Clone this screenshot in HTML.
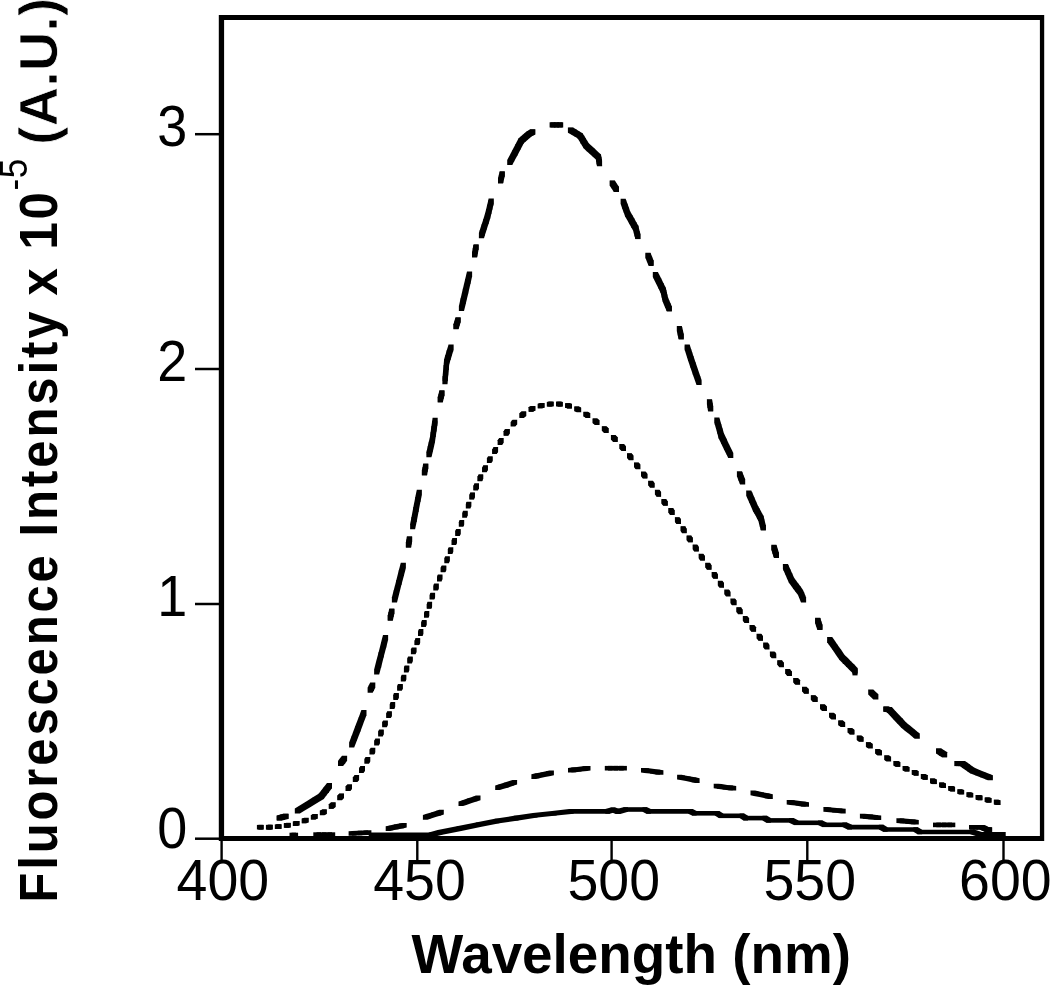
<!DOCTYPE html>
<html><head><meta charset="utf-8"><title>Fluorescence spectra</title>
<style>html,body{margin:0;padding:0;background:#fff;}body{width:1050px;height:985px;overflow:hidden;position:relative;font-family:"Liberation Sans",sans-serif;}</style>
</head><body>
<svg width="1050" height="985" viewBox="0 0 1050 985" style="position:absolute;left:0;top:0;will-change:transform">
<rect x="0" y="0" width="1050" height="985" fill="#fff"/>
<g fill="#000" stroke="none">
<polygon points="276.5,815.5 277.0,815.4 282.1,815.4 282.1,820.5 281.6,820.6 276.5,820.6"/><polygon points="277.0,815.4 280.1,814.6 285.1,814.6 285.1,819.7 282.1,820.5 277.0,820.5"/><polygon points="280.1,814.6 283.1,813.8 288.2,813.8 288.2,818.9 285.1,819.7 280.1,819.7"/><polygon points="283.1,813.8 283.6,813.7 288.7,813.7 288.7,818.8 288.2,818.9 283.1,818.9"/>
<polygon points="294.8,808.5 298.9,806.0 303.9,806.0 303.9,811.1 299.9,813.6 294.8,813.6"/><polygon points="298.9,806.0 305.4,801.9 310.6,801.9 310.6,807.0 303.9,811.1 298.9,811.1"/><polygon points="305.4,801.9 312.1,797.8 317.1,797.8 317.1,802.9 310.6,807.0 305.4,807.0"/><polygon points="312.1,797.8 318.6,793.8 323.8,793.8 323.8,798.9 317.1,802.9 312.1,802.9"/><polygon points="318.6,793.8 321.2,790.5 326.3,790.5 326.3,795.5 323.8,798.9 318.6,798.9"/><polygon points="321.2,790.5 323.8,787.1 328.9,787.1 328.9,792.2 326.3,795.5 321.2,795.5"/><polygon points="323.8,787.1 326.3,783.9 331.4,783.9 331.4,789.0 328.9,792.2 323.8,792.2"/><polygon points="326.3,783.9 326.9,783.1 332.0,783.1 332.0,788.2 331.4,789.0 326.3,789.0"/>
<polygon points="338.0,760.8 340.0,758.2 345.1,758.2 345.1,763.4 343.1,765.9 338.0,765.9"/><polygon points="340.0,758.2 342.0,755.7 347.1,755.7 347.1,760.8 345.1,763.4 340.0,763.4"/>
<polygon points="349.1,742.5 351.7,735.7 356.8,735.7 356.8,740.8 354.2,747.6 349.1,747.6"/><polygon points="351.7,735.7 355.2,726.3 360.4,726.3 360.4,731.4 356.8,740.8 351.7,740.8"/><polygon points="355.2,726.3 358.8,716.9 363.9,716.9 363.9,722.0 360.4,731.4 355.2,731.4"/><polygon points="358.8,716.9 361.4,710.1 366.5,710.1 366.5,715.2 363.9,722.0 358.8,722.0"/>
<polygon points="367.6,687.7 368.9,685.1 374.0,685.1 374.0,690.2 372.7,692.8 367.6,692.8"/><polygon points="368.9,685.1 370.2,682.6 375.3,682.6 375.3,687.7 374.0,690.2 368.9,690.2"/>
<polygon points="374.1,669.4 376.0,662.1 381.1,662.1 381.1,667.2 379.2,674.5 374.1,674.5"/><polygon points="376.0,662.1 378.6,652.2 383.6,652.2 383.6,657.3 381.1,667.2 376.0,667.2"/><polygon points="378.6,652.2 381.1,642.3 386.2,642.3 386.2,647.4 383.6,657.3 378.6,657.3"/><polygon points="381.1,642.3 383.0,635.0 388.1,635.0 388.1,640.1 386.2,647.4 381.1,647.4"/>
<polygon points="387.7,615.6 387.8,615.1 392.9,615.1 392.9,620.2 392.8,620.7 387.7,620.7"/><polygon points="387.8,615.1 388.5,612.0 393.6,612.0 393.6,617.1 392.9,620.2 387.8,620.2"/><polygon points="388.5,612.0 389.2,609.0 394.3,609.0 394.3,614.1 393.6,617.1 388.5,617.1"/><polygon points="389.2,609.0 389.3,608.5 394.4,608.5 394.4,613.6 394.3,614.1 389.2,614.1"/>
<polygon points="391.9,597.3 393.8,590.0 398.9,590.0 398.9,595.0 397.0,602.4 391.9,602.4"/><polygon points="393.8,590.0 396.4,580.0 401.4,580.0 401.4,585.1 398.9,595.0 393.8,595.0"/><polygon points="396.4,580.0 398.9,570.1 404.0,570.1 404.0,575.2 401.4,585.1 396.4,585.1"/><polygon points="398.9,570.1 400.8,562.8 405.9,562.8 405.9,567.9 404.0,575.2 398.9,575.2"/>
<polygon points="405.9,542.5 405.9,542.2 411.1,542.2 411.1,547.4 411.0,547.6 405.9,547.6"/><polygon points="405.9,542.2 406.4,539.5 411.6,539.5 411.6,544.5 411.1,547.4 405.9,547.4"/><polygon points="406.4,539.5 406.9,536.6 412.1,536.6 412.1,541.8 411.6,544.5 406.4,544.5"/><polygon points="406.9,536.6 407.0,536.4 412.1,536.4 412.1,541.5 412.1,541.8 406.9,541.8"/>
<polygon points="410.1,524.2 411.5,516.9 416.6,516.9 416.6,522.0 415.1,529.3 410.1,529.3"/><polygon points="411.5,516.9 413.4,506.9 418.5,506.9 418.5,512.0 416.6,522.0 411.5,522.0"/><polygon points="413.4,506.9 415.3,497.1 420.4,497.1 420.4,502.1 418.5,512.0 413.4,512.0"/><polygon points="415.3,497.1 416.8,489.7 421.9,489.7 421.9,494.8 420.4,502.1 415.3,502.1"/>
<polygon points="421.9,470.4 421.9,469.9 427.1,469.9 427.1,475.0 427.0,475.5 421.9,475.5"/><polygon points="421.9,469.9 422.6,466.9 427.6,466.9 427.6,472.0 427.1,475.0 421.9,475.0"/><polygon points="422.6,466.9 423.1,463.9 428.2,463.9 428.2,469.0 427.6,472.0 422.6,472.0"/><polygon points="423.1,463.9 423.2,463.4 428.3,463.4 428.3,468.5 428.2,469.0 423.1,469.0"/>
<polygon points="426.4,452.2 426.8,450.4 431.9,450.4 431.9,455.5 431.4,457.3 426.4,457.3"/><polygon points="426.8,450.4 427.8,446.1 432.9,446.1 432.9,451.2 431.9,455.5 426.8,455.5"/><polygon points="427.8,446.1 428.8,441.8 433.9,441.8 433.9,446.9 432.9,451.2 427.8,451.2"/><polygon points="428.8,441.8 429.9,437.4 434.9,437.4 434.9,442.6 433.9,446.9 428.8,446.9"/><polygon points="429.9,437.4 430.6,431.9 435.7,431.9 435.7,437.0 434.9,442.6 429.9,442.6"/><polygon points="430.6,431.9 431.4,426.3 436.5,426.3 436.5,431.4 435.7,437.0 430.6,437.0"/><polygon points="431.4,426.3 432.2,420.7 437.3,420.7 437.3,425.8 436.5,431.4 431.4,431.4"/><polygon points="432.2,420.7 432.6,417.7 437.7,417.7 437.7,422.8 437.3,425.8 432.2,425.8"/>
<polygon points="437.7,397.3 437.8,396.8 442.9,396.8 442.9,401.9 442.8,402.4 437.7,402.4"/><polygon points="437.8,396.8 438.6,393.8 443.6,393.8 443.6,398.9 442.9,401.9 437.8,401.9"/><polygon points="438.6,393.8 439.3,390.8 444.4,390.8 444.4,395.9 443.6,398.9 438.6,398.9"/><polygon points="439.3,390.8 439.4,390.3 444.5,390.3 444.5,395.4 444.4,395.9 439.3,395.9"/>
<polygon points="442.4,379.1 442.6,376.1 447.8,376.1 447.8,381.1 447.5,384.2 442.4,384.2"/><polygon points="442.6,376.1 443.1,370.4 448.2,370.4 448.2,375.6 447.8,381.1 442.6,381.1"/><polygon points="443.1,370.4 443.6,364.9 448.8,364.9 448.8,369.9 448.2,375.6 443.1,375.6"/><polygon points="443.6,364.9 444.1,359.2 449.2,359.2 449.2,364.4 448.8,369.9 443.6,369.9"/><polygon points="444.1,359.2 445.4,354.9 450.5,354.9 450.5,360.1 449.2,364.4 444.1,364.4"/><polygon points="445.4,354.9 446.7,350.6 451.8,350.6 451.8,355.8 450.5,360.1 445.4,360.1"/><polygon points="446.7,350.6 448.0,346.4 453.1,346.4 453.1,351.4 451.8,355.8 446.7,355.8"/><polygon points="448.0,346.4 448.5,344.6 453.6,344.6 453.6,349.7 453.1,351.4 448.0,351.4"/>
<polygon points="453.4,324.2 453.6,323.7 458.7,323.7 458.7,328.8 458.5,329.3 453.4,329.3"/><polygon points="453.6,323.7 454.5,320.7 459.6,320.7 459.6,325.8 458.7,328.8 453.6,328.8"/><polygon points="454.5,320.7 455.4,317.7 460.5,317.7 460.5,322.8 459.6,325.8 454.5,325.8"/><polygon points="455.4,317.7 455.6,317.2 460.7,317.2 460.7,322.3 460.5,322.8 455.4,322.8"/>
<polygon points="458.9,306.0 460.6,298.6 465.8,298.6 465.8,303.8 464.0,311.1 458.9,311.1"/><polygon points="460.6,298.6 462.9,288.8 468.1,288.8 468.1,293.9 465.8,303.8 460.6,303.8"/><polygon points="462.9,288.8 465.2,278.9 470.4,278.9 470.4,283.9 468.1,293.9 462.9,293.9"/><polygon points="465.2,278.9 467.0,271.5 472.1,271.5 472.1,276.6 470.4,283.9 465.2,283.9"/>
<polygon points="472.0,252.3 472.2,251.6 477.3,251.6 477.3,256.6 477.1,257.4 472.0,257.4"/><polygon points="472.2,251.6 472.8,248.2 477.9,248.2 477.9,253.3 477.3,256.6 472.2,256.6"/><polygon points="472.8,248.2 473.4,244.9 478.5,244.9 478.5,250.1 477.9,253.3 472.8,253.3"/><polygon points="473.4,244.9 473.6,244.2 478.7,244.2 478.7,249.3 478.5,250.1 473.4,250.1"/>
<polygon points="478.9,233.1 479.8,230.1 484.9,230.1 484.9,235.2 484.0,238.2 478.9,238.2"/><polygon points="479.8,230.1 481.6,224.5 486.7,224.5 486.7,229.6 484.9,235.2 479.8,235.2"/><polygon points="481.6,224.5 483.4,218.9 488.5,218.9 488.5,224.0 486.7,229.6 481.6,229.6"/><polygon points="483.4,218.9 485.1,213.3 490.2,213.3 490.2,218.4 488.5,224.0 483.4,224.0"/><polygon points="485.1,213.3 486.2,209.0 491.3,209.0 491.3,214.1 490.2,218.4 485.1,218.4"/><polygon points="486.2,209.0 487.2,204.7 492.3,204.7 492.3,209.8 491.3,214.1 486.2,214.1"/><polygon points="487.2,204.7 488.2,200.4 493.3,200.4 493.3,205.5 492.3,209.8 487.2,209.8"/><polygon points="488.2,200.4 488.6,198.6 493.8,198.6 493.8,203.7 493.3,205.5 488.2,205.5"/>
<polygon points="498.0,178.3 498.1,177.8 503.2,177.8 503.2,182.9 503.1,183.4 498.0,183.4"/><polygon points="498.1,177.8 498.9,174.8 503.9,174.8 503.9,179.8 503.2,182.9 498.1,182.9"/><polygon points="498.9,174.8 499.6,171.7 504.7,171.7 504.7,176.8 503.9,179.8 498.9,179.8"/><polygon points="499.6,171.7 499.7,171.2 504.8,171.2 504.8,176.3 504.7,176.8 499.6,176.8"/>
<polygon points="507.2,160.0 509.1,156.5 514.1,156.5 514.1,161.6 512.3,165.1 507.2,165.1"/><polygon points="509.1,156.5 512.2,150.4 517.4,150.4 517.4,155.5 514.1,161.6 509.1,161.6"/><polygon points="512.2,150.4 515.5,144.3 520.5,144.3 520.5,149.4 517.4,155.5 512.2,155.5"/><polygon points="515.5,144.3 518.6,138.2 523.8,138.2 523.8,143.3 520.5,149.4 515.5,149.4"/><polygon points="518.6,138.2 520.7,136.5 525.8,136.5 525.8,141.6 523.8,143.3 518.6,143.3"/><polygon points="520.7,136.5 522.7,134.7 527.8,134.7 527.8,139.8 525.8,141.6 520.7,141.6"/><polygon points="522.7,134.7 524.7,132.9 529.8,132.9 529.8,138.0 527.8,139.8 522.7,139.8"/><polygon points="524.7,132.9 526.8,131.2 531.9,131.2 531.9,136.2 529.8,138.0 524.7,138.0"/><polygon points="526.8,131.2 528.3,130.4 533.4,130.4 533.4,135.5 531.9,136.2 526.8,136.2"/><polygon points="528.3,130.4 529.8,129.6 534.9,129.6 534.9,134.7 533.4,135.5 528.3,135.5"/><polygon points="529.8,129.6 530.3,129.3 535.4,129.3 535.4,134.4 534.9,134.7 529.8,134.7"/>
<polygon points="549.6,122.3 555.5,122.3 555.5,127.5 549.6,127.5"/><polygon points="550.5,122.3 559.0,122.3 559.0,127.5 550.5,127.5"/><polygon points="553.9,122.3 562.4,122.3 562.4,127.5 553.9,127.5"/><polygon points="557.2,122.3 563.2,122.3 563.2,127.5 557.2,127.5"/>
<polygon points="567.9,127.5 573.0,127.5 573.5,127.8 573.5,132.9 568.4,132.9 567.9,132.6"/><polygon points="568.4,127.8 573.5,127.8 576.5,129.6 576.5,134.7 571.5,134.7 568.4,132.9"/><polygon points="571.5,129.6 576.5,129.6 579.6,131.4 579.6,136.5 574.5,136.5 571.5,134.7"/><polygon points="574.5,131.4 579.6,131.4 582.6,133.2 582.6,138.2 577.5,138.2 574.5,136.5"/><polygon points="577.5,133.2 582.6,133.2 584.2,135.7 584.2,140.8 579.1,140.8 577.5,138.2"/><polygon points="579.1,135.7 584.2,135.7 585.7,138.2 585.7,143.3 580.6,143.3 579.1,140.8"/><polygon points="580.6,138.2 585.7,138.2 587.2,140.7 587.2,145.8 582.1,145.8 580.6,143.3"/><polygon points="582.1,140.7 587.2,140.7 588.8,143.2 588.8,148.3 583.6,148.3 582.1,145.8"/><polygon points="583.6,143.2 588.8,143.2 591.8,146.1 591.8,151.2 586.7,151.2 583.6,148.3"/><polygon points="586.7,146.1 591.8,146.1 594.9,148.8 594.9,153.9 589.8,153.9 586.7,151.2"/><polygon points="589.8,148.8 594.9,148.8 597.9,151.7 597.9,156.8 592.8,156.8 589.8,153.9"/><polygon points="592.8,151.7 597.9,151.7 601.0,154.4 601.0,159.6 595.9,159.6 592.8,156.8"/><polygon points="595.9,154.4 601.0,154.4 601.4,156.8 601.4,161.8 596.2,161.8 595.9,159.6"/><polygon points="596.2,156.8 601.4,156.8 601.8,159.1 601.8,164.2 596.6,164.2 596.2,161.8"/><polygon points="596.6,159.1 601.8,159.1 602.1,161.1 602.1,166.2 597.0,166.2 596.6,164.2"/>
<polygon points="609.7,180.5 614.8,180.5 615.0,180.8 615.0,185.9 609.9,185.9 609.7,185.6"/><polygon points="609.9,180.8 615.0,180.8 616.9,183.7 616.9,188.8 611.8,188.8 609.9,185.9"/><polygon points="611.8,183.7 616.9,183.7 618.8,186.6 618.8,191.7 613.7,191.7 611.8,188.8"/><polygon points="613.7,186.6 618.8,186.6 619.0,186.9 619.0,192.0 613.9,192.0 613.7,191.7"/>
<polygon points="620.6,198.7 625.7,198.7 626.1,200.0 626.1,205.1 621.0,205.1 620.6,203.8"/><polygon points="621.0,200.0 626.1,200.0 627.5,203.8 627.5,208.9 622.4,208.9 621.0,205.1"/><polygon points="622.4,203.8 627.5,203.8 628.9,207.6 628.9,212.7 623.8,212.7 622.4,208.9"/><polygon points="623.8,207.6 628.9,207.6 630.2,211.4 630.2,216.6 625.1,216.6 623.8,212.7"/><polygon points="625.1,211.4 630.2,211.4 632.3,215.0 632.3,220.1 627.2,220.1 625.1,216.6"/><polygon points="627.2,215.0 632.3,215.0 634.3,218.6 634.3,223.7 629.2,223.7 627.2,220.1"/><polygon points="629.2,218.6 634.3,218.6 636.3,222.2 636.3,227.3 631.2,227.3 629.2,223.7"/><polygon points="631.2,222.2 636.3,222.2 638.4,225.8 638.4,230.8 633.2,230.8 631.2,227.3"/><polygon points="633.2,225.8 638.4,225.8 639.0,228.4 639.0,233.6 633.9,233.6 633.2,230.8"/><polygon points="633.9,228.4 639.0,228.4 639.7,231.2 639.7,236.2 634.6,236.2 633.9,233.6"/><polygon points="634.6,231.2 639.7,231.2 640.4,233.8 640.4,238.9 635.3,238.9 634.6,236.2"/><polygon points="635.3,233.8 640.4,233.8 640.4,234.0 640.4,239.1 635.3,239.1 635.3,238.9"/>
<polygon points="645.4,252.7 650.5,252.7 650.8,253.4 650.8,258.6 645.7,258.6 645.4,257.8"/><polygon points="645.7,253.4 650.8,253.4 652.1,256.8 652.1,261.9 647.0,261.9 645.7,258.6"/><polygon points="647.0,256.8 652.1,256.8 653.4,260.1 653.4,265.1 648.3,265.1 647.0,261.9"/><polygon points="648.3,260.1 653.4,260.1 653.7,260.8 653.7,265.9 648.6,265.9 648.3,265.1"/>
<polygon points="652.8,272.0 657.9,272.0 658.9,274.0 658.9,279.1 653.8,279.1 652.8,277.1"/><polygon points="653.8,274.0 658.9,274.0 661.2,278.6 661.2,283.7 656.1,283.7 653.8,279.1"/><polygon points="656.1,278.6 661.2,278.6 663.5,283.2 663.5,288.3 658.4,288.3 656.1,283.7"/><polygon points="658.4,283.2 663.5,283.2 665.8,287.8 665.8,292.9 660.6,292.9 658.4,288.3"/><polygon points="660.6,287.8 665.8,287.8 666.3,290.0 666.3,295.1 661.2,295.1 660.6,292.9"/><polygon points="661.2,290.0 666.3,290.0 666.8,292.3 666.8,297.4 661.7,297.4 661.2,295.1"/><polygon points="661.7,292.3 666.8,292.3 667.3,294.6 667.3,299.7 662.2,299.7 661.7,297.4"/><polygon points="662.2,294.6 667.3,294.6 667.9,296.9 667.9,301.9 662.8,301.9 662.2,299.7"/><polygon points="662.8,296.9 667.9,296.9 669.1,299.9 669.1,305.0 664.0,305.0 662.8,301.9"/><polygon points="664.0,299.9 669.1,299.9 670.4,302.9 670.4,308.1 665.3,308.1 664.0,305.0"/><polygon points="665.3,302.9 670.4,302.9 671.7,306.0 671.7,311.1 666.6,311.1 665.3,308.1"/><polygon points="666.6,306.0 671.7,306.0 671.9,306.5 671.9,311.6 666.8,311.6 666.6,311.1"/>
<polygon points="676.8,326.0 681.9,326.0 682.1,326.9 682.1,331.9 677.0,331.9 676.8,331.1"/><polygon points="677.0,326.9 682.1,326.9 682.9,330.2 682.9,335.4 677.8,335.4 677.0,331.9"/><polygon points="677.8,330.2 682.9,330.2 683.6,333.6 683.6,338.8 678.5,338.8 677.8,335.4"/><polygon points="678.5,333.6 683.6,333.6 683.8,334.5 683.8,339.6 678.7,339.6 678.5,338.8"/>
<polygon points="684.6,344.4 689.7,344.4 690.0,345.4 690.0,350.5 684.9,350.5 684.6,349.5"/><polygon points="684.9,345.4 690.0,345.4 691.1,348.9 691.1,354.1 686.0,354.1 684.9,350.5"/><polygon points="686.0,348.9 691.1,348.9 692.2,352.5 692.2,357.6 687.1,357.6 686.0,354.1"/><polygon points="687.1,352.5 692.2,352.5 693.4,356.1 693.4,361.1 688.2,361.1 687.1,357.6"/><polygon points="688.2,356.1 693.4,356.1 695.6,362.6 695.6,367.8 690.5,367.8 688.2,361.1"/><polygon points="690.5,362.6 695.6,362.6 697.9,369.2 697.9,374.4 692.8,374.4 690.5,367.8"/><polygon points="692.8,369.2 697.9,369.2 700.2,375.9 700.2,380.9 695.1,380.9 692.8,374.4"/><polygon points="695.1,375.9 700.2,375.9 701.6,379.9 701.6,385.0 696.5,385.0 695.1,380.9"/>
<polygon points="706.9,399.2 712.0,399.2 712.1,399.7 712.1,404.8 707.0,404.8 706.9,404.3"/><polygon points="707.0,399.7 712.1,399.7 712.6,402.8 712.6,407.9 707.5,407.9 707.0,404.8"/><polygon points="707.5,402.8 712.6,402.8 713.1,405.8 713.1,410.9 708.0,410.9 707.5,407.9"/><polygon points="708.0,405.8 713.1,405.8 713.2,406.3 713.2,411.4 708.1,411.4 708.0,410.9"/>
<polygon points="714.3,417.5 719.4,417.5 719.9,419.5 719.9,424.6 714.8,424.6 714.3,422.6"/><polygon points="714.8,419.5 719.9,419.5 721.2,424.1 721.2,429.1 716.1,429.1 714.8,424.6"/><polygon points="716.1,424.1 721.2,424.1 722.5,428.6 722.5,433.7 717.4,433.7 716.1,429.1"/><polygon points="717.4,428.6 722.5,428.6 723.8,433.1 723.8,438.2 718.6,438.2 717.4,433.7"/><polygon points="718.6,433.1 723.8,433.1 726.5,438.8 726.5,443.9 721.4,443.9 718.6,438.2"/><polygon points="721.4,438.8 726.5,438.8 729.1,444.4 729.1,449.4 724.0,449.4 721.4,443.9"/><polygon points="724.0,444.4 729.1,444.4 731.9,449.9 731.9,455.1 726.8,455.1 724.0,449.4"/><polygon points="726.8,449.9 731.9,449.9 733.3,453.0 733.3,458.1 728.2,458.1 726.8,455.1"/>
<polygon points="736.9,471.3 742.0,471.3 742.3,472.1 742.3,477.1 737.2,477.1 736.9,476.4"/><polygon points="737.2,472.1 742.3,472.1 743.6,475.4 743.6,480.4 738.5,480.4 737.2,477.1"/><polygon points="738.5,475.4 743.6,475.4 744.9,478.6 744.9,483.8 739.8,483.8 738.5,480.4"/><polygon points="739.8,478.6 744.9,478.6 745.2,479.4 745.2,484.5 740.1,484.5 739.8,483.8"/>
<polygon points="746.2,490.6 751.3,490.6 752.2,492.6 752.2,497.7 747.1,497.7 746.2,495.7"/><polygon points="747.1,492.6 752.2,492.6 754.2,497.1 754.2,502.2 749.1,502.2 747.1,497.7"/><polygon points="749.1,497.1 754.2,497.1 756.2,501.7 756.2,506.8 751.1,506.8 749.1,502.2"/><polygon points="751.1,501.7 756.2,501.7 758.2,506.2 758.2,511.4 753.1,511.4 751.1,506.8"/><polygon points="753.1,506.2 758.2,506.2 759.5,508.6 759.5,513.7 754.5,513.7 753.1,511.4"/><polygon points="754.5,508.6 759.5,508.6 760.9,511.0 760.9,516.1 755.8,516.1 754.5,513.7"/><polygon points="755.8,511.0 760.9,511.0 762.1,513.4 762.1,518.5 757.0,518.5 755.8,516.1"/><polygon points="757.0,513.4 762.1,513.4 763.5,515.8 763.5,520.9 758.4,520.9 757.0,518.5"/><polygon points="758.4,515.8 763.5,515.8 764.2,518.8 764.2,523.9 759.1,523.9 758.4,520.9"/><polygon points="759.1,518.8 764.2,518.8 765.0,521.9 765.0,527.0 759.9,527.0 759.1,523.9"/><polygon points="759.9,521.9 765.0,521.9 765.8,524.9 765.8,530.0 760.7,530.0 759.9,527.0"/><polygon points="760.7,524.9 765.8,524.9 765.9,525.4 765.9,530.5 760.8,530.5 760.7,530.0"/>
<polygon points="771.3,544.7 776.4,544.7 776.7,545.5 776.7,550.5 771.6,550.5 771.3,549.8"/><polygon points="771.6,545.5 776.7,545.5 777.7,548.8 777.7,553.9 772.6,553.9 771.6,550.5"/><polygon points="772.6,548.8 777.7,548.8 778.7,552.0 778.7,557.1 773.6,557.1 772.6,553.9"/><polygon points="773.6,552.0 778.7,552.0 779.0,552.8 779.0,557.9 773.9,557.9 773.6,557.1"/>
<polygon points="782.9,564.0 788.0,564.0 788.6,565.5 788.6,570.6 783.5,570.6 782.9,569.1"/><polygon points="783.5,565.5 788.6,565.5 790.4,569.5 790.4,574.6 785.3,574.6 783.5,570.6"/><polygon points="785.3,569.5 790.4,569.5 792.2,573.6 792.2,578.7 787.1,578.7 785.3,574.6"/><polygon points="787.1,573.6 792.2,573.6 794.0,577.6 794.0,582.8 788.9,582.8 787.1,578.7"/><polygon points="788.9,577.6 794.0,577.6 796.2,580.7 796.2,585.8 791.1,585.8 788.9,582.8"/><polygon points="791.1,580.7 796.2,580.7 798.5,583.8 798.5,588.9 793.4,588.9 791.1,585.8"/><polygon points="793.4,583.8 798.5,583.8 800.8,586.8 800.8,591.9 795.7,591.9 793.4,588.9"/><polygon points="795.7,586.8 800.8,586.8 803.0,589.9 803.0,595.0 798.0,595.0 795.7,591.9"/><polygon points="798.0,589.9 803.0,589.9 804.1,592.4 804.1,597.5 799.0,597.5 798.0,595.0"/><polygon points="799.0,592.4 804.1,592.4 805.1,594.9 805.1,600.0 800.0,600.0 799.0,597.5"/><polygon points="800.0,594.9 805.1,594.9 806.1,597.4 806.1,602.5 801.0,602.5 800.0,600.0"/>
<polygon points="815.1,617.8 820.2,617.8 820.4,618.3 820.4,623.4 815.2,623.4 815.1,622.9"/><polygon points="815.2,618.3 820.4,618.3 821.4,621.4 821.4,626.5 816.2,626.5 815.2,623.4"/><polygon points="816.2,621.4 821.4,621.4 822.4,624.4 822.4,629.5 817.2,629.5 816.2,626.5"/><polygon points="817.2,624.4 822.4,624.4 822.5,624.9 822.5,630.0 817.4,630.0 817.2,629.5"/>
<polygon points="827.1,637.1 832.2,637.1 834.0,639.6 834.0,644.7 828.9,644.7 827.1,642.2"/><polygon points="828.9,639.6 834.0,639.6 837.5,644.7 837.5,649.8 832.5,649.8 828.9,644.7"/><polygon points="832.5,644.7 837.5,644.7 841.1,649.8 841.1,654.9 836.0,654.9 832.5,649.8"/><polygon points="836.0,649.8 841.1,649.8 844.6,654.9 844.6,660.0 839.5,660.0 836.0,654.9"/><polygon points="839.5,654.9 844.6,654.9 847.9,658.1 847.9,663.2 842.8,663.2 839.5,660.0"/><polygon points="842.8,658.1 847.9,658.1 851.1,661.4 851.1,666.5 846.0,666.5 842.8,663.2"/><polygon points="846.0,661.4 851.1,661.4 854.3,664.6 854.3,669.7 849.2,669.7 846.0,666.5"/><polygon points="849.2,664.6 854.3,664.6 857.5,667.9 857.5,673.0 852.5,673.0 849.2,669.7"/><polygon points="852.5,667.9 857.5,667.9 857.5,674.2 852.5,674.2"/><polygon points="852.5,669.1 857.5,669.1 857.5,675.4 852.5,675.4"/>
<polygon points="868.2,689.5 873.3,689.5 875.9,691.9 875.9,697.0 870.8,697.0 868.2,694.6"/><polygon points="870.8,691.9 875.9,691.9 878.4,694.3 878.4,699.4 873.3,699.4 870.8,697.0"/>
<polygon points="883.2,706.6 888.3,706.6 888.8,706.6 888.8,711.8 883.7,711.8 883.2,711.7"/><polygon points="883.7,706.6 888.8,706.6 890.3,706.9 890.3,712.0 885.2,712.0 883.7,711.8"/><polygon points="885.2,706.9 890.3,706.9 891.9,707.1 891.9,712.2 886.8,712.2 885.2,712.0"/><polygon points="886.8,707.1 891.9,707.1 895.4,711.0 895.4,716.1 890.3,716.1 886.8,712.2"/><polygon points="890.3,711.0 895.4,711.0 899.0,714.8 899.0,719.9 893.9,719.9 890.3,716.1"/><polygon points="893.9,714.8 899.0,714.8 902.6,718.6 902.6,723.7 897.5,723.7 893.9,719.9"/><polygon points="897.5,718.6 902.6,718.6 906.1,722.5 906.1,727.5 901.0,727.5 897.5,723.7"/><polygon points="901.0,722.5 906.1,722.5 910.2,725.8 910.2,730.9 905.1,730.9 901.0,727.5"/><polygon points="905.1,725.8 910.2,725.8 914.2,729.0 914.2,734.1 909.1,734.1 905.1,730.9"/><polygon points="909.1,729.0 914.2,729.0 918.3,732.4 918.3,737.5 913.2,737.5 909.1,734.1"/><polygon points="913.2,732.4 918.3,732.4 919.8,733.6 919.8,738.7 914.7,738.7 913.2,737.5"/>
<polygon points="936.0,748.4 941.1,748.4 941.4,748.5 941.4,753.6 936.2,753.6 936.0,753.5"/><polygon points="936.2,748.5 941.4,748.5 944.1,750.3 944.1,755.4 939.0,755.4 936.2,753.6"/><polygon points="939.0,750.3 944.1,750.3 947.0,752.1 947.0,757.2 941.9,757.2 939.0,755.4"/><polygon points="941.9,752.1 947.0,752.1 947.2,752.2 947.2,757.3 942.1,757.3 941.9,757.2"/>
<polygon points="954.3,761.0 960.9,761.0 960.9,766.1 954.3,766.1"/><polygon points="955.8,761.0 962.9,761.0 962.9,766.1 955.8,766.1"/><polygon points="957.8,761.0 965.0,761.0 965.0,766.1 957.8,766.1"/><polygon points="959.9,761.0 965.0,761.0 967.5,762.8 967.5,767.9 962.4,767.9 959.9,766.1"/><polygon points="962.4,762.8 967.5,762.8 970.0,764.6 970.0,769.7 965.0,769.7 962.4,767.9"/><polygon points="965.0,764.6 970.0,764.6 972.6,766.4 972.6,771.5 967.5,771.5 965.0,769.7"/><polygon points="967.5,766.4 972.6,766.4 975.1,768.1 975.1,773.2 970.0,773.2 967.5,771.5"/><polygon points="970.0,768.1 975.1,768.1 980.2,770.2 980.2,775.3 975.1,775.3 970.0,773.2"/><polygon points="975.1,770.2 980.2,770.2 985.3,772.2 985.3,777.3 980.2,777.3 975.1,775.3"/><polygon points="980.2,772.2 985.3,772.2 990.4,774.2 990.4,779.3 985.3,779.3 980.2,777.3"/><polygon points="985.3,774.2 990.4,774.2 992.9,775.2 992.9,780.3 987.8,780.3 985.3,779.3"/>
<polygon points="289.5,832.7 296.1,832.7 296.1,837.3 289.5,837.3"/><polygon points="291.5,832.7 298.1,832.7 298.1,837.3 291.5,837.3"/>
<polygon points="313.3,832.3 321.1,832.3 321.1,836.9 313.3,836.9"/><polygon points="316.5,832.3 326.6,832.3 326.6,836.9 316.5,836.9"/><polygon points="321.9,832.3 332.0,832.3 332.0,836.9 321.9,836.9"/><polygon points="327.4,832.3 335.2,832.3 335.2,836.9 327.4,836.9"/>
<polygon points="348.6,831.2 352.0,831.0 356.6,831.0 356.6,835.6 353.2,835.8 348.6,835.8"/><polygon points="352.0,831.0 357.7,830.7 362.3,830.7 362.3,835.3 356.6,835.6 352.0,835.6"/><polygon points="357.7,830.7 363.4,830.4 368.0,830.4 368.0,835.0 362.3,835.3 357.7,835.3"/><polygon points="363.4,830.4 366.8,830.2 371.4,830.2 371.4,834.8 368.0,835.0 363.4,835.0"/>
<polygon points="385.7,826.3 388.6,825.7 393.2,825.7 393.2,830.3 390.3,830.9 385.7,830.9"/><polygon points="388.6,825.7 393.9,824.6 398.5,824.6 398.5,829.2 393.2,830.3 388.6,830.3"/><polygon points="393.9,824.6 399.1,823.6 403.8,823.6 403.8,828.2 398.5,829.2 393.9,829.2"/><polygon points="399.1,823.6 402.1,823.0 406.7,823.0 406.7,827.6 403.8,828.2 399.1,828.2"/>
<polygon points="422.9,815.1 425.8,814.1 430.4,814.1 430.4,818.7 427.5,819.7 422.9,819.7"/><polygon points="425.8,814.1 431.1,812.5 435.6,812.5 435.6,817.0 430.4,818.7 425.8,818.7"/><polygon points="431.1,812.5 436.3,810.8 440.9,810.8 440.9,815.4 435.6,817.0 431.1,817.0"/><polygon points="436.3,810.8 439.2,809.8 443.8,809.8 443.8,814.4 440.9,815.4 436.3,815.4"/>
<polygon points="458.5,801.5 461.7,800.4 466.3,800.4 466.3,805.0 463.1,806.1 458.5,806.1"/><polygon points="461.7,800.4 467.2,798.5 471.8,798.5 471.8,803.1 466.3,805.0 461.7,805.0"/><polygon points="467.2,798.5 472.7,796.7 477.3,796.7 477.3,801.3 471.8,803.1 467.2,803.1"/><polygon points="472.7,796.7 475.9,795.6 480.5,795.6 480.5,800.2 477.3,801.3 472.7,801.3"/>
<polygon points="495.2,785.5 498.4,784.5 503.0,784.5 503.0,789.1 499.8,790.1 495.2,790.1"/><polygon points="498.4,784.5 503.9,782.8 508.4,782.8 508.4,787.4 503.0,789.1 498.4,789.1"/><polygon points="503.9,782.8 509.3,781.0 513.9,781.0 513.9,785.6 508.4,787.4 503.9,787.4"/><polygon points="509.3,781.0 512.5,780.0 517.1,780.0 517.1,784.5 513.9,785.6 509.3,785.6"/>
<polygon points="531.4,774.3 534.7,773.6 539.3,773.6 539.3,778.2 536.0,778.9 531.4,778.9"/><polygon points="534.7,773.6 540.4,772.5 545.0,772.5 545.0,777.0 539.3,778.2 534.7,778.2"/><polygon points="540.4,772.5 546.0,771.3 550.6,771.3 550.6,775.9 545.0,777.0 540.4,777.0"/><polygon points="546.0,771.3 549.3,770.6 553.9,770.6 553.9,775.2 550.6,775.9 546.0,775.9"/>
<polygon points="568.0,767.9 571.3,767.6 575.9,767.6 575.9,772.2 572.6,772.5 568.0,772.5"/><polygon points="571.3,767.6 577.0,767.0 581.5,767.0 581.5,771.5 575.9,772.2 571.3,772.2"/><polygon points="577.0,767.0 582.6,766.3 587.2,766.3 587.2,770.9 581.5,771.5 577.0,771.5"/><polygon points="582.6,766.3 585.9,766.0 590.5,766.0 590.5,770.6 587.2,770.9 582.6,770.9"/>
<polygon points="604.8,765.9 612.6,765.9 612.6,770.5 604.8,770.5"/><polygon points="608.0,765.9 618.1,765.9 618.1,770.5 608.0,770.5"/><polygon points="613.5,765.9 623.7,765.9 623.7,770.5 613.5,770.5"/><polygon points="619.1,765.9 626.9,765.9 626.9,770.5 619.1,770.5"/>
<polygon points="641.0,767.9 645.6,767.9 648.9,768.3 648.9,772.9 644.3,772.9 641.0,772.5"/><polygon points="644.3,768.3 648.9,768.3 654.5,769.0 654.5,773.6 649.9,773.6 644.3,772.9"/><polygon points="649.9,769.0 654.5,769.0 660.1,769.8 660.1,774.4 655.5,774.4 649.9,773.6"/><polygon points="655.5,769.8 660.1,769.8 663.4,770.2 663.4,774.8 658.8,774.8 655.5,774.4"/>
<polygon points="677.1,774.8 681.7,774.8 685.0,775.4 685.0,780.0 680.4,780.0 677.1,779.4"/><polygon points="680.4,775.4 685.0,775.4 690.6,776.5 690.6,781.1 686.0,781.1 680.4,780.0"/><polygon points="686.0,776.5 690.6,776.5 696.3,777.6 696.3,782.2 691.7,782.2 686.0,781.1"/><polygon points="691.7,777.6 696.3,777.6 699.6,778.2 699.6,782.9 695.0,782.9 691.7,782.2"/>
<polygon points="713.7,783.7 718.3,783.7 721.6,784.1 721.6,788.7 717.0,788.7 713.7,788.3"/><polygon points="717.0,784.1 721.6,784.1 727.2,784.9 727.2,789.5 722.6,789.5 717.0,788.7"/><polygon points="722.6,784.9 727.2,784.9 732.9,785.6 732.9,790.2 728.3,790.2 722.6,789.5"/><polygon points="728.3,785.6 732.9,785.6 736.2,786.0 736.2,790.6 731.6,790.6 728.3,790.2"/>
<polygon points="750.5,790.6 755.1,790.6 758.4,791.3 758.4,795.9 753.8,795.9 750.5,795.2"/><polygon points="753.8,791.3 758.4,791.3 764.0,792.5 764.0,797.0 759.4,797.0 753.8,795.9"/><polygon points="759.4,792.5 764.0,792.5 769.5,793.6 769.5,798.2 764.9,798.2 759.4,797.0"/><polygon points="764.9,793.6 769.5,793.6 772.8,794.3 772.8,798.9 768.2,798.9 764.9,798.2"/>
<polygon points="786.7,799.9 791.3,799.9 794.6,800.3 794.6,804.9 790.0,804.9 786.7,804.5"/><polygon points="790.0,800.3 794.6,800.3 800.1,801.0 800.1,805.6 795.5,805.6 790.0,804.9"/><polygon points="795.5,801.0 800.1,801.0 805.7,801.8 805.7,806.4 801.1,806.4 795.5,805.6"/><polygon points="801.1,801.8 805.7,801.8 809.0,802.2 809.0,806.8 804.4,806.8 801.1,806.4"/>
<polygon points="823.4,807.1 828.0,807.1 831.3,807.4 831.3,812.0 826.7,812.0 823.4,811.7"/><polygon points="826.7,807.4 831.3,807.4 836.9,808.0 836.9,812.5 832.2,812.5 826.7,812.0"/><polygon points="832.2,808.0 836.9,808.0 842.4,808.5 842.4,813.1 837.8,813.1 832.2,812.5"/><polygon points="837.8,808.5 842.4,808.5 845.7,808.8 845.7,813.4 841.1,813.4 837.8,813.1"/>
<polygon points="859.9,813.8 864.5,813.8 867.5,814.1 867.5,818.7 862.9,818.7 859.9,818.4"/><polygon points="862.9,814.1 867.5,814.1 872.9,814.6 872.9,819.2 868.2,819.2 862.9,818.7"/><polygon points="868.2,814.6 872.9,814.6 878.2,815.2 878.2,819.8 873.6,819.8 868.2,819.2"/><polygon points="873.6,815.2 878.2,815.2 881.2,815.5 881.2,820.1 876.6,820.1 873.6,819.8"/>
<polygon points="896.4,818.3 901.0,818.3 904.3,818.6 904.3,823.2 899.7,823.2 896.4,822.9"/><polygon points="899.7,818.6 904.3,818.6 909.9,819.1 909.9,823.7 905.3,823.7 899.7,823.2"/><polygon points="905.3,819.1 909.9,819.1 915.5,819.6 915.5,824.2 910.9,824.2 905.3,823.7"/><polygon points="910.9,819.6 915.5,819.6 918.8,819.9 918.8,824.5 914.2,824.5 910.9,824.2"/>
<polygon points="933.0,822.6 940.9,822.6 940.9,827.2 933.0,827.2"/><polygon points="936.3,822.6 946.5,822.6 946.5,827.2 936.3,827.2"/><polygon points="941.9,822.6 952.0,822.6 952.0,827.2 941.9,827.2"/><polygon points="947.4,822.6 955.3,822.6 955.3,827.2 947.4,827.2"/>
<polygon points="969.0,825.0 974.5,825.0 974.5,829.6 969.0,829.6"/><polygon points="970.0,825.0 977.8,825.0 977.8,829.6 970.0,829.6"/><polygon points="973.2,825.0 981.0,825.0 981.0,829.6 973.2,829.6"/><polygon points="976.5,825.0 984.3,825.0 984.3,829.6 976.5,829.6"/><polygon points="979.7,825.0 984.3,825.0 985.5,825.6 985.5,830.2 981.0,830.2 979.7,829.6"/><polygon points="981.0,825.6 985.5,825.6 986.8,826.1 986.8,830.8 982.2,830.8 981.0,830.2"/><polygon points="982.2,826.1 986.8,826.1 988.0,826.7 988.0,831.3 983.5,831.3 982.2,830.8"/><polygon points="983.5,826.7 988.0,826.7 989.3,827.3 989.3,831.9 984.7,831.9 983.5,831.3"/><polygon points="984.7,827.3 990.6,827.3 990.6,831.9 984.7,831.9"/><polygon points="986.0,827.3 991.9,827.3 991.9,831.9 986.0,831.9"/><polygon points="987.3,827.3 992.2,827.3 992.2,831.9 987.3,831.9"/>
<polygon points="368.7,832.5 433.3,832.5 433.3,837.1 368.7,837.1"/><polygon points="428.7,832.5 437.7,830.1 442.3,830.1 442.3,834.7 433.3,837.1 428.7,837.1"/><polygon points="437.7,830.1 456.7,826.3 461.3,826.3 461.3,830.9 442.3,834.7 437.7,834.7"/><polygon points="456.7,826.3 475.8,822.5 480.4,822.5 480.4,827.1 461.3,830.9 456.7,830.9"/><polygon points="475.8,822.5 494.8,818.7 499.4,818.7 499.4,823.3 480.4,827.1 475.8,827.1"/><polygon points="494.8,818.7 513.9,815.8 518.5,815.8 518.5,820.4 499.4,823.3 494.8,823.3"/><polygon points="513.9,815.8 532.9,812.9 537.5,812.9 537.5,817.5 518.5,820.4 513.9,820.4"/><polygon points="532.9,812.9 552.0,811.0 556.6,811.0 556.6,815.6 537.5,817.5 532.9,817.5"/><polygon points="552.0,811.0 569.1,809.1 573.7,809.1 573.7,813.7 556.6,815.6 552.0,815.6"/><polygon points="569.1,809.1 609.9,809.1 609.9,813.7 569.1,813.7"/><polygon points="605.3,809.1 610.7,807.5 615.3,807.5 615.3,812.1 609.9,813.7 605.3,813.7"/><polygon points="610.7,807.5 615.3,807.5 620.3,809.3 620.3,813.9 615.7,813.9 610.7,812.1"/><polygon points="615.7,809.3 623.4,807.2 628.0,807.2 628.0,811.8 620.3,813.9 615.7,813.9"/><polygon points="623.4,807.2 647.1,807.2 647.1,811.8 623.4,811.8"/><polygon points="642.5,807.2 647.1,807.2 650.9,809.1 650.9,813.7 646.3,813.7 642.5,811.8"/><polygon points="646.3,809.1 692.8,809.1 692.8,813.7 646.3,813.7"/><polygon points="688.2,809.1 692.8,809.1 696.6,811.0 696.6,815.6 692.0,815.6 688.2,813.7"/><polygon points="692.0,811.0 719.4,811.0 719.4,815.6 692.0,815.6"/><polygon points="714.8,811.0 719.4,811.0 723.3,813.5 723.3,818.1 718.7,818.1 714.8,815.6"/><polygon points="718.7,813.5 744.2,813.5 744.2,818.1 718.7,818.1"/><polygon points="739.6,813.5 744.2,813.5 748.0,815.8 748.0,820.4 743.4,820.4 739.6,818.1"/><polygon points="743.4,815.8 767.1,815.8 767.1,820.4 743.4,820.4"/><polygon points="762.5,815.8 767.1,815.8 770.9,818.1 770.9,822.7 766.3,822.7 762.5,820.4"/><polygon points="766.3,818.1 793.7,818.1 793.7,822.7 766.3,822.7"/><polygon points="789.1,818.1 793.7,818.1 798.5,820.5 798.5,825.1 793.9,825.1 789.1,822.7"/><polygon points="793.9,820.5 822.6,820.5 822.6,825.1 793.9,825.1"/><polygon points="818.0,820.5 822.6,820.5 826.7,822.5 826.7,827.1 822.1,827.1 818.0,825.1"/><polygon points="822.1,822.5 847.0,822.5 847.0,827.1 822.1,827.1"/><polygon points="842.4,822.5 847.0,822.5 852.0,824.8 852.0,829.4 847.4,829.4 842.4,827.1"/><polygon points="847.4,824.8 883.5,824.8 883.5,829.4 847.4,829.4"/><polygon points="878.9,824.8 883.5,824.8 887.6,827.2 887.6,831.8 883.0,831.8 878.9,829.4"/><polygon points="883.0,827.2 918.0,827.2 918.0,831.8 883.0,831.8"/><polygon points="913.4,827.2 918.0,827.2 922.1,829.7 922.1,834.3 917.5,834.3 913.4,831.8"/><polygon points="917.5,829.7 974.9,829.7 974.9,834.3 917.5,834.3"/><polygon points="970.3,829.7 974.9,829.7 987.3,833.7 987.3,838.3 982.7,838.3 970.3,834.3"/><polygon points="982.7,833.7 987.3,833.7 1005.3,835.7 1005.3,840.3 1000.7,840.3 982.7,838.3"/>
<polygon points="256.9,824.9 262.6,824.9 262.6,829.5 256.9,829.5"/><polygon points="258.0,824.9 263.5,824.9 263.5,829.5 258.0,829.5"/><polygon points="258.9,824.9 263.7,824.9 263.7,829.5 258.9,829.5"/>
<polygon points="265.9,824.9 270.8,824.9 270.8,829.5 265.9,829.5"/><polygon points="266.2,824.9 271.7,824.9 271.7,829.5 266.2,829.5"/><polygon points="267.1,824.9 268.1,824.8 272.7,824.8 272.7,829.4 271.7,829.5 267.1,829.5"/><polygon points="268.1,824.8 272.7,824.8 272.7,829.4 268.1,829.4"/>
<polygon points="274.8,824.4 275.6,824.4 280.2,824.4 280.2,829.0 279.4,829.0 274.8,829.0"/><polygon points="275.6,824.4 276.5,824.3 281.1,824.3 281.1,828.9 280.2,829.0 275.6,829.0"/><polygon points="276.5,824.3 277.1,824.2 281.7,824.2 281.7,828.8 281.1,828.9 276.5,828.9"/>
<polygon points="283.8,823.2 284.2,823.1 288.8,823.1 288.8,827.7 288.4,827.8 283.8,827.8"/><polygon points="284.2,823.1 285.1,823.0 289.7,823.0 289.7,827.6 288.8,827.7 284.2,827.7"/><polygon points="285.1,823.0 286.1,822.9 290.7,822.9 290.7,827.5 289.7,827.6 285.1,827.6"/><polygon points="286.1,822.9 286.1,822.8 290.7,822.8 290.7,827.4 290.7,827.5 286.1,827.5"/>
<polygon points="292.8,821.4 293.5,821.2 298.1,821.2 298.1,825.8 297.4,826.0 292.8,826.0"/><polygon points="293.5,821.2 294.4,821.0 299.0,821.0 299.0,825.6 298.1,825.8 293.5,825.8"/><polygon points="294.4,821.0 295.1,820.9 299.7,820.9 299.7,825.5 299.0,825.6 294.4,825.6"/>
<polygon points="301.8,818.6 306.4,818.6 306.4,823.2 301.8,823.2"/><polygon points="301.8,818.6 302.8,818.2 307.4,818.2 307.4,822.8 306.4,823.2 301.8,823.2"/><polygon points="302.8,818.2 303.7,817.9 308.3,817.9 308.3,822.5 307.4,822.8 302.8,822.8"/><polygon points="303.7,817.9 304.1,817.8 308.7,817.8 308.7,822.4 308.3,822.5 303.7,822.5"/>
<polygon points="310.8,815.0 311.1,814.9 315.7,814.9 315.7,819.5 315.4,819.6 310.8,819.6"/><polygon points="311.1,814.9 312.0,814.5 316.6,814.5 316.6,819.1 315.7,819.5 311.1,819.5"/><polygon points="312.0,814.5 312.9,814.1 317.5,814.1 317.5,818.7 316.6,819.1 312.0,819.1"/><polygon points="312.9,814.1 313.1,814.0 317.7,814.0 317.7,818.6 317.5,818.7 312.9,818.7"/>
<polygon points="319.8,810.6 320.2,810.4 324.8,810.4 324.8,815.0 324.4,815.2 319.8,815.2"/><polygon points="320.2,810.4 321.1,809.9 325.7,809.9 325.7,814.5 324.8,815.0 320.2,815.0"/><polygon points="321.1,809.9 322.1,809.4 326.7,809.4 326.7,814.0 325.7,814.5 321.1,814.5"/><polygon points="322.1,809.4 322.1,809.4 326.7,809.4 326.7,814.0 326.7,814.0 322.1,814.0"/>
<polygon points="328.8,804.2 328.9,804.1 333.5,804.1 333.5,808.7 333.4,808.8 328.8,808.8"/><polygon points="328.9,804.1 329.8,803.4 334.4,803.4 334.4,808.0 333.5,808.7 328.9,808.7"/><polygon points="329.8,803.4 330.6,802.7 335.2,802.7 335.2,807.3 334.4,808.0 329.8,808.0"/><polygon points="330.6,802.7 331.1,802.3 335.7,802.3 335.7,806.9 335.2,807.3 330.6,807.3"/>
<polygon points="337.3,795.6 337.6,795.3 342.2,795.3 342.2,799.9 341.9,800.2 337.3,800.2"/><polygon points="337.6,795.3 338.4,794.5 343.0,794.5 343.0,799.1 342.2,799.9 337.6,799.9"/><polygon points="338.4,794.5 339.1,793.7 343.8,793.7 343.8,798.3 343.0,799.1 338.4,799.1"/><polygon points="339.1,793.7 339.4,793.4 344.0,793.4 344.0,798.0 343.8,798.3 339.1,798.3"/>
<polygon points="345.5,786.5 346.1,785.8 350.8,785.8 350.8,790.4 350.1,791.1 345.5,791.1"/><polygon points="346.1,785.8 346.9,784.9 351.5,784.9 351.5,789.5 350.8,790.4 346.1,790.4"/><polygon points="346.9,784.9 347.4,784.2 352.0,784.2 352.0,788.8 351.5,789.5 346.9,789.5"/>
<polygon points="352.8,777.4 353.4,776.7 358.0,776.7 358.0,781.3 357.4,782.0 352.8,782.0"/><polygon points="353.4,776.7 354.1,775.8 358.7,775.8 358.7,780.4 358.0,781.3 353.4,781.3"/><polygon points="354.1,775.8 354.5,775.1 359.1,775.1 359.1,779.7 358.7,780.4 354.1,780.4"/>
<polygon points="359.0,768.3 359.5,767.5 364.1,767.5 364.1,772.1 363.6,772.9 359.0,772.9"/><polygon points="359.5,767.5 360.1,766.6 364.7,766.6 364.7,771.2 364.1,772.1 359.5,772.1"/><polygon points="360.1,766.6 360.4,766.0 365.0,766.0 365.0,770.6 364.7,771.2 360.1,771.2"/>
<polygon points="364.4,759.1 364.8,758.4 369.4,758.4 369.4,763.0 369.0,763.8 364.4,763.8"/><polygon points="364.8,758.4 365.4,757.5 369.9,757.5 369.9,762.1 369.4,763.0 364.8,763.0"/><polygon points="365.4,757.5 365.7,756.9 370.3,756.9 370.3,761.5 369.9,762.1 365.4,762.1"/>
<polygon points="369.5,750.0 369.9,749.3 374.5,749.3 374.5,753.9 374.1,754.6 369.5,754.6"/><polygon points="369.9,749.3 370.4,748.4 375.0,748.4 375.0,753.0 374.5,753.9 369.9,753.9"/><polygon points="370.4,748.4 370.7,747.7 375.3,747.7 375.3,752.3 375.0,753.0 370.4,753.0"/>
<polygon points="374.2,740.9 374.6,740.1 379.2,740.1 379.2,744.7 378.8,745.5 374.2,745.5"/><polygon points="374.6,740.1 375.0,739.2 379.6,739.2 379.6,743.8 379.2,744.7 374.6,744.7"/><polygon points="375.0,739.2 375.3,738.6 379.9,738.6 379.9,743.2 379.6,743.8 375.0,743.8"/>
<polygon points="378.2,731.8 378.5,731.0 383.1,731.0 383.1,735.6 382.8,736.4 378.2,736.4"/><polygon points="378.5,731.0 378.9,730.1 383.5,730.1 383.5,734.7 383.1,735.6 378.5,735.6"/><polygon points="378.9,730.1 379.1,729.5 383.7,729.5 383.7,734.1 383.5,734.7 378.9,734.7"/>
<polygon points="382.2,722.6 382.5,721.8 387.1,721.8 387.1,726.4 386.8,727.2 382.2,727.2"/><polygon points="382.5,721.8 382.9,720.9 387.5,720.9 387.5,725.5 387.1,726.4 382.5,726.4"/><polygon points="382.9,720.9 383.2,720.4 387.8,720.4 387.8,725.0 387.5,725.5 382.9,725.5"/>
<polygon points="386.2,713.5 386.6,712.7 391.2,712.7 391.2,717.3 390.8,718.1 386.2,718.1"/><polygon points="386.6,712.7 387.0,711.8 391.6,711.8 391.6,716.4 391.2,717.3 386.6,717.3"/><polygon points="387.0,711.8 387.2,711.2 391.8,711.2 391.8,715.8 391.6,716.4 387.0,716.4"/>
<polygon points="389.7,704.4 390.0,703.6 394.6,703.6 394.6,708.2 394.3,709.0 389.7,709.0"/><polygon points="390.0,703.6 390.4,702.7 395.0,702.7 395.0,707.3 394.6,708.2 390.0,708.2"/><polygon points="390.4,702.7 390.6,702.1 395.2,702.1 395.2,706.7 395.0,707.3 390.4,707.3"/>
<polygon points="393.3,695.3 393.6,694.5 398.2,694.5 398.2,699.1 397.9,699.9 393.3,699.9"/><polygon points="393.6,694.5 393.9,693.6 398.5,693.6 398.5,698.2 398.2,699.1 393.6,699.1"/><polygon points="393.9,693.6 394.2,693.0 398.8,693.0 398.8,697.6 398.5,698.2 393.9,698.2"/>
<polygon points="397.2,686.1 397.5,685.5 402.1,685.5 402.1,690.1 401.8,690.8 397.2,690.8"/><polygon points="397.5,685.5 397.9,684.6 402.5,684.6 402.5,689.2 402.1,690.1 397.5,690.1"/><polygon points="397.9,684.6 398.2,683.9 402.8,683.9 402.8,688.5 402.5,689.2 397.9,689.2"/>
<polygon points="400.8,677.0 401.1,676.3 405.7,676.3 405.7,680.9 405.4,681.6 400.8,681.6"/><polygon points="401.1,676.3 401.5,675.4 406.1,675.4 406.1,680.0 405.7,680.9 401.1,680.9"/><polygon points="401.5,675.4 401.7,674.7 406.3,674.7 406.3,679.3 406.1,680.0 401.5,680.0"/>
<polygon points="403.9,667.9 404.2,667.0 408.8,667.0 408.8,671.6 408.5,672.5 403.9,672.5"/><polygon points="404.2,667.0 404.5,666.1 409.1,666.1 409.1,670.7 408.8,671.6 404.2,671.6"/><polygon points="404.5,666.1 404.7,665.6 409.3,665.6 409.3,670.2 409.1,670.7 404.5,670.7"/>
<polygon points="407.3,658.8 407.6,657.9 412.2,657.9 412.2,662.5 411.9,663.4 407.3,663.4"/><polygon points="407.6,657.9 407.9,657.0 412.5,657.0 412.5,661.6 412.2,662.5 407.6,662.5"/><polygon points="407.9,657.0 408.1,656.5 412.7,656.5 412.7,661.1 412.5,661.6 407.9,661.6"/>
<polygon points="410.9,649.6 411.2,649.0 415.8,649.0 415.8,653.6 415.6,654.2 410.9,654.2"/><polygon points="411.2,649.0 411.6,648.1 416.2,648.1 416.2,652.7 415.8,653.6 411.2,653.6"/><polygon points="411.6,648.1 411.9,647.4 416.5,647.4 416.5,652.0 416.2,652.7 411.6,652.7"/>
<polygon points="414.6,640.5 414.6,640.5 419.2,640.5 419.2,645.1 419.2,645.1 414.6,645.1"/><polygon points="414.6,640.5 415.1,639.4 419.7,639.4 419.7,644.0 419.2,645.1 414.6,645.1"/><polygon points="415.1,639.4 415.5,638.3 420.1,638.3 420.1,642.9 419.7,644.0 415.1,644.0"/><polygon points="415.5,638.3 415.5,638.2 420.1,638.2 420.1,642.8 420.1,642.9 415.5,642.9"/>
<polygon points="418.0,631.4 418.4,630.4 423.0,630.4 423.0,635.0 422.6,636.0 418.0,636.0"/><polygon points="418.4,630.4 418.9,629.1 423.4,629.1 423.4,633.7 423.0,635.0 418.4,635.0"/>
<polygon points="421.3,622.3 421.3,622.1 425.9,622.1 425.9,626.7 425.9,626.9 421.3,626.9"/><polygon points="421.3,622.1 421.8,620.7 426.4,620.7 426.4,625.3 425.9,626.7 421.3,626.7"/><polygon points="421.8,620.7 422.0,620.0 426.6,620.0 426.6,624.6 426.4,625.3 421.8,625.3"/>
<polygon points="424.0,613.2 424.3,612.3 428.9,612.3 428.9,616.9 428.6,617.8 424.0,617.8"/><polygon points="424.3,612.3 424.7,610.9 429.3,610.9 429.3,615.5 428.9,616.9 424.3,616.9"/>
<polygon points="426.8,604.1 426.8,604.0 431.4,604.0 431.4,608.6 431.4,608.7 426.8,608.7"/><polygon points="426.8,604.0 427.2,602.7 431.9,602.7 431.9,607.3 431.4,608.6 426.8,608.6"/><polygon points="427.2,602.7 427.5,601.8 432.1,601.8 432.1,606.4 431.9,607.3 427.2,607.3"/>
<polygon points="429.6,595.0 429.9,594.4 434.5,594.4 434.5,599.0 434.2,599.6 429.6,599.6"/><polygon points="429.9,594.4 430.4,593.0 435.0,593.0 435.0,597.6 434.5,599.0 429.9,599.0"/><polygon points="430.4,593.0 430.6,592.7 435.1,592.7 435.1,597.3 435.0,597.6 430.4,597.6"/>
<polygon points="433.3,585.9 433.8,584.6 438.4,584.6 438.4,589.2 437.9,590.5 433.3,590.5"/><polygon points="433.8,584.6 434.2,583.6 438.8,583.6 438.8,588.2 438.4,589.2 433.8,589.2"/>
<polygon points="437.0,576.8 437.5,575.5 442.1,575.5 442.1,580.1 441.6,581.4 437.0,581.4"/><polygon points="437.5,575.5 437.9,574.5 442.5,574.5 442.5,579.1 442.1,580.1 437.5,580.1"/>
<polygon points="440.7,567.7 440.8,567.5 445.4,567.5 445.4,572.1 445.3,572.3 440.7,572.3"/><polygon points="440.8,567.5 441.5,565.9 446.1,565.9 446.1,570.5 445.4,572.1 440.8,572.1"/><polygon points="441.5,565.9 441.7,565.4 446.3,565.4 446.3,570.0 446.1,570.5 441.5,570.5"/>
<polygon points="444.3,558.6 444.9,557.0 449.5,557.0 449.5,561.6 448.9,563.2 444.3,563.2"/><polygon points="444.9,557.0 445.2,556.3 449.8,556.3 449.8,560.9 449.5,561.6 444.9,561.6"/>
<polygon points="447.8,549.5 448.4,548.1 452.9,548.1 452.9,552.7 452.4,554.1 447.8,554.1"/><polygon points="448.4,548.1 448.7,547.2 453.3,547.2 453.3,551.8 452.9,552.7 448.4,552.7"/>
<polygon points="451.5,540.4 452.0,539.1 456.6,539.1 456.6,543.7 456.1,545.0 451.5,545.0"/><polygon points="452.0,539.1 452.4,538.1 457.0,538.1 457.0,542.7 456.6,543.7 452.0,543.7"/>
<polygon points="455.2,531.3 455.7,530.1 460.3,530.1 460.3,534.7 459.8,535.9 455.2,535.9"/><polygon points="455.7,530.1 456.1,529.0 460.7,529.0 460.7,533.6 460.3,534.7 455.7,534.7"/>
<polygon points="458.8,522.2 459.3,520.8 463.9,520.8 463.9,525.4 463.4,526.8 458.8,526.8"/><polygon points="459.3,520.8 459.6,519.9 464.2,519.9 464.2,524.5 463.9,525.4 459.3,525.4"/>
<polygon points="462.2,513.1 462.9,511.6 467.4,511.6 467.4,516.1 466.9,517.7 462.2,517.7"/><polygon points="462.9,511.6 463.1,510.8 467.7,510.8 467.7,515.4 467.4,516.1 462.9,516.1"/>
<polygon points="465.8,504.0 466.5,502.1 471.1,502.1 471.1,506.8 470.4,508.6 465.8,508.6"/><polygon points="466.5,502.1 466.7,501.7 471.3,501.7 471.3,506.3 471.1,506.8 466.5,506.8"/>
<polygon points="469.4,494.9 469.5,494.6 474.1,494.6 474.1,499.2 474.0,499.5 469.4,499.5"/><polygon points="469.5,494.6 470.2,492.8 474.8,492.8 474.8,497.4 474.1,499.2 469.5,499.2"/><polygon points="470.2,492.8 470.2,492.6 474.9,492.6 474.9,497.2 474.8,497.4 470.2,497.4"/>
<polygon points="473.4,485.8 473.5,485.4 478.1,485.4 478.1,490.0 478.0,490.4 473.4,490.4"/><polygon points="473.5,485.4 474.4,483.6 479.0,483.6 479.0,488.2 478.1,490.0 473.5,490.0"/><polygon points="474.4,483.6 474.4,483.5 479.0,483.5 479.0,488.1 479.0,488.2 474.4,488.2"/>
<polygon points="477.5,476.7 477.7,476.3 482.3,476.3 482.3,480.9 482.1,481.3 477.5,481.3"/><polygon points="477.7,476.3 478.6,474.5 483.1,474.5 483.1,479.1 482.3,480.9 477.7,480.9"/><polygon points="478.6,474.5 478.6,474.4 483.2,474.4 483.2,479.0 483.1,479.1 478.6,479.1"/>
<polygon points="482.1,467.6 482.2,467.5 486.8,467.5 486.8,472.1 486.7,472.2 482.1,472.2"/><polygon points="482.2,467.5 483.1,465.7 487.7,465.7 487.7,470.3 486.8,472.1 482.2,472.1"/><polygon points="483.1,465.7 483.3,465.3 487.9,465.3 487.9,469.9 487.7,470.3 483.1,470.3"/>
<polygon points="486.9,458.5 487.7,457.0 492.3,457.0 492.3,461.6 491.5,463.1 486.9,463.1"/><polygon points="487.7,457.0 488.1,456.2 492.7,456.2 492.7,460.8 492.3,461.6 487.7,461.6"/>
<polygon points="492.2,449.4 492.3,449.2 496.9,449.2 496.9,453.8 496.8,454.0 492.2,454.0"/><polygon points="492.3,449.2 493.2,447.7 497.8,447.7 497.8,452.3 496.9,453.8 492.3,453.8"/><polygon points="493.2,447.7 493.5,447.1 498.1,447.1 498.1,451.7 497.8,452.3 493.2,452.3"/>
<polygon points="497.6,440.3 498.4,439.2 503.0,439.2 503.0,443.8 502.2,444.9 497.6,444.9"/><polygon points="498.4,439.2 499.1,438.0 503.7,438.0 503.7,442.6 503.0,443.8 498.4,443.8"/>
<polygon points="503.6,431.2 503.8,431.0 508.4,431.0 508.4,435.6 508.2,435.8 503.6,435.8"/><polygon points="503.8,431.0 504.5,429.8 509.1,429.8 509.1,434.4 508.4,435.6 503.8,435.6"/><polygon points="504.5,429.8 505.3,428.9 509.9,428.9 509.9,433.5 509.1,434.4 504.5,434.4"/>
<polygon points="510.6,422.0 511.2,421.4 515.8,421.4 515.8,426.0 515.2,426.6 510.6,426.6"/><polygon points="511.2,421.4 511.9,420.4 516.5,420.4 516.5,425.0 515.8,426.0 511.2,426.0"/><polygon points="511.9,420.4 512.6,419.8 517.2,419.8 517.2,424.4 516.5,425.0 511.9,425.0"/>
<polygon points="519.4,413.2 519.7,413.0 524.3,413.0 524.3,417.6 524.0,417.9 519.4,417.9"/><polygon points="519.7,413.0 520.5,412.2 525.1,412.2 525.1,416.8 524.3,417.6 519.7,417.6"/><polygon points="520.5,412.2 521.4,411.6 526.0,411.6 526.0,416.2 525.1,416.8 520.5,416.8"/><polygon points="521.4,411.6 521.7,411.5 526.3,411.5 526.3,416.1 526.0,416.2 521.4,416.2"/>
<polygon points="528.6,407.2 528.8,407.1 533.4,407.1 533.4,411.7 533.2,411.8 528.6,411.8"/><polygon points="528.8,407.1 529.7,406.5 534.3,406.5 534.3,411.1 533.4,411.7 528.8,411.7"/><polygon points="529.7,406.5 530.6,406.2 535.2,406.2 535.2,410.8 534.3,411.1 529.7,411.1"/><polygon points="530.6,406.2 530.8,406.1 535.4,406.1 535.4,410.7 535.2,410.8 530.6,410.8"/>
<polygon points="537.7,403.7 537.9,403.7 542.5,403.7 542.5,408.3 542.3,408.3 537.7,408.3"/><polygon points="537.9,403.7 538.8,403.4 543.4,403.4 543.4,407.9 542.5,408.3 537.9,408.3"/><polygon points="538.8,403.4 539.7,403.2 544.3,403.2 544.3,407.8 543.4,407.9 538.8,407.9"/><polygon points="539.7,403.2 540.0,403.1 544.6,403.1 544.6,407.7 544.3,407.8 539.7,407.8"/>
<polygon points="546.8,401.9 547.1,401.9 551.7,401.9 551.7,406.5 551.4,406.5 546.8,406.5"/><polygon points="547.1,401.9 548.0,401.7 552.6,401.7 552.6,406.3 551.7,406.5 547.1,406.5"/><polygon points="548.0,401.7 553.5,401.7 553.5,406.3 548.0,406.3"/><polygon points="548.9,401.7 553.7,401.7 553.7,406.3 548.9,406.3"/>
<polygon points="556.0,401.7 560.8,401.7 560.8,406.3 556.0,406.3"/><polygon points="556.2,401.7 561.7,401.7 561.7,406.3 556.2,406.3"/><polygon points="557.1,401.7 561.7,401.7 562.6,401.9 562.6,406.5 558.0,406.5 557.1,406.3"/><polygon points="558.0,401.9 562.6,401.9 562.8,401.9 562.8,406.5 558.2,406.5 558.0,406.5"/>
<polygon points="565.1,403.2 569.7,403.2 569.9,403.3 569.9,407.9 565.3,407.9 565.1,407.8"/><polygon points="565.3,403.3 569.9,403.3 570.8,403.4 570.8,408.1 566.2,408.1 565.3,407.9"/><polygon points="566.2,403.4 570.8,403.4 571.7,403.8 571.7,408.4 567.1,408.4 566.2,408.1"/><polygon points="567.1,403.8 571.7,403.8 572.0,403.9 572.0,408.5 567.4,408.5 567.1,408.4"/>
<polygon points="574.3,406.6 578.9,406.6 579.1,406.6 579.1,411.2 574.5,411.2 574.3,411.1"/><polygon points="574.5,406.6 579.1,406.6 580.0,407.0 580.0,411.6 575.4,411.6 574.5,411.2"/><polygon points="575.4,407.0 580.0,407.0 580.9,407.5 580.9,412.1 576.3,412.1 575.4,411.6"/><polygon points="576.3,407.5 580.9,407.5 581.2,407.7 581.2,412.3 576.6,412.3 576.3,412.1"/>
<polygon points="583.4,411.8 588.0,411.8 588.2,411.9 588.2,416.5 583.6,416.5 583.4,416.4"/><polygon points="583.6,411.9 588.2,411.9 589.1,412.4 589.1,417.1 584.5,417.1 583.6,416.5"/><polygon points="584.5,412.4 589.1,412.4 590.0,413.1 590.0,417.7 585.4,417.7 584.5,417.1"/><polygon points="585.4,413.1 590.0,413.1 590.3,413.4 590.3,418.0 585.7,418.0 585.4,417.7"/>
<polygon points="592.6,418.5 597.2,418.5 597.4,418.6 597.4,423.2 592.8,423.2 592.6,423.1"/><polygon points="592.8,418.6 597.4,418.6 598.3,419.3 598.3,423.9 593.7,423.9 592.8,423.2"/><polygon points="593.7,419.3 598.3,419.3 599.2,420.1 599.2,424.7 594.6,424.7 593.7,423.9"/><polygon points="594.6,420.1 599.2,420.1 599.5,420.3 599.5,424.9 594.9,424.9 594.6,424.7"/>
<polygon points="601.8,426.2 606.4,426.2 606.7,426.5 606.7,431.1 602.1,431.1 601.8,430.8"/><polygon points="602.1,426.5 606.7,426.5 607.6,427.3 607.6,431.9 603.0,431.9 602.1,431.1"/><polygon points="603.0,427.3 607.6,427.3 608.5,428.2 608.5,432.8 603.9,432.8 603.0,431.9"/><polygon points="603.9,428.2 608.5,428.2 608.6,428.3 608.6,432.9 604.0,432.9 603.9,432.8"/>
<polygon points="610.9,435.0 615.5,435.0 615.8,435.3 615.8,439.9 611.2,439.9 610.9,439.6"/><polygon points="611.2,435.3 615.8,435.3 616.7,436.2 616.7,440.8 612.1,440.8 611.2,439.9"/><polygon points="612.1,436.2 616.7,436.2 617.5,437.1 617.5,441.7 612.9,441.7 612.1,440.8"/><polygon points="612.9,437.1 617.5,437.1 617.7,437.3 617.7,441.9 613.1,441.9 612.9,441.7"/>
<polygon points="619.4,444.1 624.0,444.1 624.3,444.4 624.3,449.0 619.7,449.0 619.4,448.7"/><polygon points="619.7,444.4 624.3,444.4 625.1,445.3 625.1,449.9 620.5,449.9 619.7,449.0"/><polygon points="620.5,445.3 625.1,445.3 625.9,446.2 625.9,450.8 621.3,450.8 620.5,449.9"/><polygon points="621.3,446.2 625.9,446.2 626.0,446.4 626.0,451.0 621.4,451.0 621.3,450.8"/>
<polygon points="627.0,453.3 631.6,453.3 631.8,453.6 631.8,458.2 627.2,458.2 627.0,457.9"/><polygon points="627.2,453.6 631.8,453.6 632.6,454.5 632.6,459.1 628.0,459.1 627.2,458.2"/><polygon points="628.0,454.5 632.6,454.5 633.3,455.4 633.3,460.0 628.7,460.0 628.0,459.1"/><polygon points="628.7,455.4 633.3,455.4 633.4,455.6 633.4,460.2 628.8,460.2 628.7,460.0"/>
<polygon points="634.0,462.5 638.6,462.5 638.8,462.7 638.8,467.3 634.2,467.3 634.0,467.1"/><polygon points="634.2,462.7 638.8,462.7 639.5,463.6 639.5,468.2 634.9,468.2 634.2,467.3"/><polygon points="634.9,463.6 639.5,463.6 640.2,464.5 640.2,469.1 635.6,469.1 634.9,468.2"/><polygon points="635.6,464.5 640.2,464.5 640.3,464.7 640.3,469.3 635.7,469.3 635.6,469.1"/>
<polygon points="641.0,471.6 645.6,471.6 645.9,471.9 645.9,476.5 641.3,476.5 641.0,476.2"/><polygon points="641.3,471.9 645.9,471.9 646.6,472.8 646.6,477.4 642.0,477.4 641.3,476.5"/><polygon points="642.0,472.8 646.6,472.8 647.3,473.7 647.3,478.3 642.7,478.3 642.0,477.4"/><polygon points="642.7,473.7 647.3,473.7 647.4,473.9 647.4,478.5 642.8,478.5 642.7,478.3"/>
<polygon points="648.2,480.7 652.8,480.7 653.1,481.1 653.1,485.7 648.5,485.7 648.2,485.3"/><polygon points="648.5,481.1 653.1,481.1 653.8,482.0 653.8,486.6 649.2,486.6 648.5,485.7"/><polygon points="649.2,482.0 653.8,482.0 654.5,482.9 654.5,487.5 649.9,487.5 649.2,486.6"/><polygon points="649.9,482.9 654.5,482.9 654.5,483.0 654.5,487.6 649.9,487.6 649.9,487.5"/>
<polygon points="654.9,489.8 659.5,489.8 659.7,490.1 659.7,494.7 655.1,494.7 654.9,494.4"/><polygon points="655.1,490.1 659.7,490.1 660.4,491.0 660.4,495.6 655.8,495.6 655.1,494.7"/><polygon points="655.8,491.0 660.4,491.0 661.0,491.9 661.0,496.5 656.4,496.5 655.8,495.6"/><polygon points="656.4,491.9 661.0,491.9 661.1,492.1 661.1,496.7 656.5,496.7 656.4,496.5"/>
<polygon points="661.5,498.9 666.1,498.9 666.2,499.2 666.2,503.8 661.6,503.8 661.5,503.6"/><polygon points="661.6,499.2 666.2,499.2 666.9,500.1 666.9,504.7 662.3,504.7 661.6,503.8"/><polygon points="662.3,500.1 666.9,500.1 667.6,501.0 667.6,505.6 663.0,505.6 662.3,504.7"/><polygon points="663.0,501.0 667.6,501.0 667.8,501.2 667.8,505.8 663.2,505.8 663.0,505.6"/>
<polygon points="668.4,508.1 673.0,508.1 673.2,508.3 673.2,512.9 668.6,512.9 668.4,512.7"/><polygon points="668.6,508.3 673.2,508.3 673.9,509.2 673.9,513.8 669.2,513.8 668.6,512.9"/><polygon points="669.2,509.2 673.9,509.2 674.5,510.1 674.5,514.7 669.9,514.7 669.2,513.8"/><polygon points="669.9,510.1 674.5,510.1 674.6,510.4 674.6,515.0 670.0,515.0 669.9,514.7"/>
<polygon points="674.9,517.2 679.5,517.2 679.6,517.4 679.6,522.0 675.0,522.0 674.9,521.8"/><polygon points="675.0,517.4 679.6,517.4 680.2,518.3 680.2,522.9 675.6,522.9 675.0,522.0"/><polygon points="675.6,518.3 680.2,518.3 680.8,519.2 680.8,523.8 676.2,523.8 675.6,522.9"/><polygon points="676.2,519.2 680.8,519.2 681.0,519.5 681.0,524.1 676.4,524.1 676.2,523.8"/>
<polygon points="680.6,526.3 685.2,526.3 685.4,526.6 685.4,531.2 680.8,531.2 680.6,530.9"/><polygon points="680.8,526.6 685.4,526.6 685.9,527.5 685.9,532.1 681.3,532.1 680.8,531.2"/><polygon points="681.3,527.5 685.9,527.5 686.5,528.4 686.5,533.0 681.9,533.0 681.3,532.1"/><polygon points="681.9,528.4 686.5,528.4 686.7,528.6 686.7,533.2 682.1,533.2 681.9,533.0"/>
<polygon points="686.6,535.4 691.2,535.4 691.4,535.8 691.4,540.4 686.8,540.4 686.6,540.0"/><polygon points="686.8,535.8 691.4,535.8 692.0,536.7 692.0,541.3 687.5,541.3 686.8,540.4"/><polygon points="687.5,536.7 692.0,536.7 692.7,537.6 692.7,542.2 688.1,542.2 687.5,541.3"/><polygon points="688.1,537.6 692.7,537.6 692.8,537.7 692.8,542.3 688.1,542.3 688.1,542.2"/>
<polygon points="692.7,544.6 697.3,544.6 697.5,544.9 697.5,549.5 692.9,549.5 692.7,549.2"/><polygon points="692.9,544.9 697.5,544.9 698.1,545.8 698.1,550.4 693.5,550.4 692.9,549.5"/><polygon points="693.5,545.8 698.1,545.8 698.7,546.7 698.7,551.3 694.1,551.3 693.5,550.4"/><polygon points="694.1,546.7 698.7,546.7 698.8,546.9 698.8,551.5 694.2,551.5 694.1,551.3"/>
<polygon points="698.7,553.7 703.3,553.7 703.5,554.0 703.5,558.6 698.9,558.6 698.7,558.3"/><polygon points="698.9,554.0 703.5,554.0 704.1,554.9 704.1,559.5 699.5,559.5 698.9,558.6"/><polygon points="699.5,554.9 704.1,554.9 704.8,555.8 704.8,560.4 700.2,560.4 699.5,559.5"/><polygon points="700.2,555.8 704.8,555.8 704.9,556.0 704.9,560.6 700.3,560.6 700.2,560.4"/>
<polygon points="705.3,562.8 709.9,562.8 710.1,563.1 710.1,567.7 705.5,567.7 705.3,567.4"/><polygon points="705.5,563.1 710.1,563.1 710.8,564.0 710.8,568.6 706.1,568.6 705.5,567.7"/><polygon points="706.1,564.0 710.8,564.0 711.4,564.9 711.4,569.5 706.8,569.5 706.1,568.6"/><polygon points="706.8,564.9 711.4,564.9 711.5,565.1 711.5,569.7 706.9,569.7 706.8,569.5"/>
<polygon points="711.7,571.9 716.3,571.9 716.5,572.2 716.5,576.8 711.9,576.8 711.7,576.5"/><polygon points="711.9,572.2 716.5,572.2 717.1,573.1 717.1,577.7 712.5,577.7 711.9,576.8"/><polygon points="712.5,573.1 717.1,573.1 717.7,574.0 717.7,578.6 713.1,578.6 712.5,577.7"/><polygon points="713.1,574.0 717.7,574.0 717.9,574.2 717.9,578.8 713.3,578.8 713.1,578.6"/>
<polygon points="717.8,580.8 722.4,580.8 722.7,581.2 722.7,585.8 718.1,585.8 717.8,585.4"/><polygon points="718.1,581.2 722.7,581.2 723.3,582.1 723.3,586.7 718.7,586.7 718.1,585.8"/><polygon points="718.7,582.1 723.3,582.1 724.0,583.0 724.0,587.6 719.4,587.6 718.7,586.7"/><polygon points="719.4,583.0 724.0,583.0 724.0,583.0 724.0,587.6 719.4,587.6 719.4,587.6"/>
<polygon points="724.3,589.6 728.9,589.6 729.4,590.2 729.4,594.8 724.8,594.8 724.3,594.2"/><polygon points="724.8,590.2 729.4,590.2 730.0,591.1 730.0,595.7 725.5,595.7 724.8,594.8"/><polygon points="725.5,591.1 730.0,591.1 730.6,591.9 730.6,596.5 726.0,596.5 725.5,595.7"/>
<polygon points="730.4,598.4 735.0,598.4 735.6,599.3 735.6,603.9 731.0,603.9 730.4,603.0"/><polygon points="731.0,599.3 735.6,599.3 736.2,600.2 736.2,604.8 731.6,604.8 731.0,603.9"/><polygon points="731.6,600.2 736.2,600.2 736.6,600.7 736.6,605.3 732.0,605.3 731.6,604.8"/>
<polygon points="736.4,607.3 741.0,607.3 741.2,607.6 741.2,612.2 736.6,612.2 736.4,611.9"/><polygon points="736.6,607.6 741.2,607.6 741.9,608.5 741.9,613.1 737.3,613.1 736.6,612.2"/><polygon points="737.3,608.5 741.9,608.5 742.5,609.5 742.5,614.1 737.9,614.1 737.3,613.1"/><polygon points="737.9,609.5 742.5,609.5 742.6,609.6 742.6,614.2 738.0,614.2 737.9,614.1"/>
<polygon points="742.8,616.1 747.4,616.1 748.0,616.9 748.0,621.5 743.4,621.5 742.8,620.7"/><polygon points="743.4,616.9 748.0,616.9 748.7,617.8 748.7,622.4 744.1,622.4 743.4,621.5"/><polygon points="744.1,617.8 748.7,617.8 749.1,618.4 749.1,623.0 744.5,623.0 744.1,622.4"/>
<polygon points="749.7,625.0 754.3,625.0 754.3,625.0 754.3,629.6 749.7,629.6 749.7,629.5"/><polygon points="749.7,625.0 754.3,625.0 755.0,625.9 755.0,630.5 750.4,630.5 749.7,629.6"/><polygon points="750.4,625.9 755.0,625.9 755.7,626.8 755.7,631.4 751.1,631.4 750.4,630.5"/><polygon points="751.1,626.8 755.7,626.8 756.1,627.2 756.1,631.8 751.5,631.8 751.1,631.4"/>
<polygon points="756.6,633.8 761.2,633.8 761.5,634.1 761.5,638.7 756.9,638.7 756.6,638.4"/><polygon points="756.9,634.1 761.5,634.1 762.2,635.0 762.2,639.6 757.6,639.6 756.9,638.7"/><polygon points="757.6,635.0 762.2,635.0 762.9,635.9 762.9,640.5 758.3,640.5 757.6,639.6"/><polygon points="758.3,635.9 762.9,635.9 763.0,636.1 763.0,640.7 758.4,640.7 758.3,640.5"/>
<polygon points="763.2,642.6 767.8,642.6 768.2,643.2 768.2,647.8 763.6,647.8 763.2,647.2"/><polygon points="763.6,643.2 768.2,643.2 768.9,644.1 768.9,648.7 764.3,648.7 763.6,647.8"/><polygon points="764.3,644.1 768.9,644.1 769.5,644.9 769.5,649.5 764.9,649.5 764.3,648.7"/>
<polygon points="769.9,651.5 774.5,651.5 775.2,652.3 775.2,656.9 770.6,656.9 769.9,656.1"/><polygon points="770.6,652.3 775.2,652.3 775.9,653.2 775.9,657.8 771.3,657.8 770.6,656.9"/><polygon points="771.3,653.2 775.9,653.2 776.3,653.7 776.3,658.3 771.7,658.3 771.3,657.8"/>
<polygon points="777.3,660.3 781.9,660.3 782.1,660.5 782.1,665.1 777.5,665.1 777.3,664.9"/><polygon points="777.5,660.5 782.1,660.5 782.9,661.5 782.9,666.1 778.3,666.1 777.5,665.1"/><polygon points="778.3,661.5 782.9,661.5 783.7,662.4 783.7,667.0 779.1,667.0 778.3,666.1"/><polygon points="779.1,662.4 783.7,662.4 783.9,662.6 783.9,667.2 779.3,667.2 779.1,667.0"/>
<polygon points="785.2,669.1 789.8,669.1 790.2,669.5 790.2,674.1 785.6,674.1 785.2,673.7"/><polygon points="785.6,669.5 790.2,669.5 791.0,670.4 791.0,675.0 786.4,675.0 785.6,674.1"/><polygon points="786.4,670.4 791.0,670.4 791.8,671.3 791.8,675.9 787.2,675.9 786.4,675.0"/><polygon points="787.2,671.3 791.8,671.3 791.9,671.4 791.9,676.0 787.3,676.0 787.2,675.9"/>
<polygon points="793.4,678.0 798.0,678.0 798.0,682.6 793.4,682.6"/><polygon points="793.4,678.0 798.0,678.0 798.7,678.8 798.7,683.4 794.1,683.4 793.4,682.6"/><polygon points="794.1,678.8 798.7,678.8 799.5,679.6 799.5,684.2 794.9,684.2 794.1,683.4"/><polygon points="794.9,679.6 799.5,679.6 800.1,680.2 800.1,684.8 795.5,684.8 794.9,684.2"/>
<polygon points="802.0,686.8 806.6,686.8 807.0,687.2 807.0,691.8 802.4,691.8 802.0,691.4"/><polygon points="802.4,687.2 807.0,687.2 807.8,688.0 807.8,692.6 803.1,692.6 802.4,691.8"/><polygon points="803.1,688.0 807.8,688.0 808.5,688.8 808.5,693.4 803.9,693.4 803.1,692.6"/><polygon points="803.9,688.8 808.5,688.8 808.8,689.1 808.8,693.7 804.2,693.7 803.9,693.4"/>
<polygon points="810.8,695.2 815.4,695.2 815.7,695.5 815.7,700.1 811.1,700.1 810.8,699.8"/><polygon points="811.1,695.5 815.7,695.5 816.5,696.3 816.5,700.9 811.9,700.9 811.1,700.1"/><polygon points="811.9,696.3 816.5,696.3 817.3,697.1 817.3,701.7 812.7,701.7 811.9,700.9"/><polygon points="812.7,697.1 817.3,697.1 817.7,697.4 817.7,702.0 813.1,702.0 812.7,701.7"/>
<polygon points="820.0,704.2 824.6,704.2 825.2,704.8 825.2,709.4 820.6,709.4 820.0,708.8"/><polygon points="820.6,704.8 825.2,704.8 826.0,705.6 826.0,710.2 821.4,710.2 820.6,709.4"/><polygon points="821.4,705.6 826.0,705.6 826.8,706.3 826.8,710.9 822.2,710.9 821.4,710.2"/><polygon points="822.2,706.3 826.8,706.3 826.9,706.4 826.9,711.0 822.2,711.0 822.2,710.9"/>
<polygon points="829.1,712.8 833.8,712.8 833.9,712.9 833.9,717.5 829.3,717.5 829.1,717.4"/><polygon points="829.3,712.9 833.9,712.9 834.7,713.6 834.7,718.2 830.1,718.2 829.3,717.5"/><polygon points="830.1,713.6 834.7,713.6 835.5,714.3 835.5,718.9 830.9,718.9 830.1,718.2"/><polygon points="830.9,714.3 835.5,714.3 836.0,714.8 836.0,719.4 831.4,719.4 830.9,718.9"/>
<polygon points="838.3,720.5 842.9,720.5 843.0,720.6 843.0,725.2 838.4,725.2 838.3,725.1"/><polygon points="838.4,720.6 843.0,720.6 843.9,721.3 843.9,725.9 839.3,725.9 838.4,725.2"/><polygon points="839.3,721.3 843.9,721.3 844.8,722.0 844.8,726.6 840.2,726.6 839.3,725.9"/><polygon points="840.2,722.0 844.8,722.0 845.2,722.3 845.2,726.9 840.6,726.9 840.2,726.6"/>
<polygon points="847.5,728.0 852.1,728.0 852.6,728.4 852.6,733.0 848.0,733.0 847.5,732.5"/><polygon points="848.0,728.4 852.6,728.4 853.5,729.0 853.5,733.6 848.9,733.6 848.0,733.0"/><polygon points="848.9,729.0 853.5,729.0 854.3,729.8 854.3,734.4 849.7,734.4 848.9,733.6"/><polygon points="849.7,729.8 854.3,729.8 854.4,729.8 854.4,734.4 849.8,734.4 849.7,734.4"/>
<polygon points="856.7,735.4 861.3,735.4 861.7,735.7 861.7,740.3 857.1,740.3 856.7,740.0"/><polygon points="857.1,735.7 861.7,735.7 862.5,736.3 862.5,740.9 857.9,740.9 857.1,740.3"/><polygon points="857.9,736.3 862.5,736.3 863.3,736.9 863.3,741.5 858.7,741.5 857.9,740.9"/><polygon points="858.7,736.9 863.3,736.9 863.6,737.1 863.6,741.7 859.0,741.7 858.7,741.5"/>
<polygon points="865.9,742.2 870.5,742.2 870.6,742.3 870.6,746.9 866.0,746.9 865.9,746.8"/><polygon points="866.0,742.3 870.6,742.3 871.4,742.9 871.4,747.5 866.8,747.5 866.0,746.9"/><polygon points="866.8,742.9 871.4,742.9 872.2,743.5 872.2,748.1 867.6,748.1 866.8,747.5"/><polygon points="867.6,743.5 872.2,743.5 872.8,743.9 872.8,748.5 868.2,748.5 867.6,748.1"/>
<polygon points="875.1,749.0 879.7,749.0 880.3,749.5 880.3,754.1 875.7,754.1 875.1,753.6"/><polygon points="875.7,749.5 880.3,749.5 881.1,750.1 881.1,754.7 876.5,754.7 875.7,754.1"/><polygon points="876.5,750.1 881.1,750.1 881.9,750.6 881.9,755.2 877.3,755.2 876.5,754.7"/><polygon points="877.3,750.6 881.9,750.6 881.9,750.7 881.9,755.3 877.3,755.3 877.3,755.2"/>
<polygon points="884.2,755.3 888.8,755.3 889.5,755.7 889.5,760.3 884.9,760.3 884.2,759.9"/><polygon points="884.9,755.7 889.5,755.7 890.3,756.3 890.3,760.9 885.7,760.9 884.9,760.3"/><polygon points="885.7,756.3 890.3,756.3 891.1,756.8 891.1,761.4 886.5,761.4 885.7,760.9"/>
<polygon points="893.4,760.9 898.0,760.9 898.4,761.1 898.4,765.7 893.8,765.7 893.4,765.5"/><polygon points="893.8,761.1 898.4,761.1 899.3,761.6 899.3,766.2 894.7,766.2 893.8,765.7"/><polygon points="894.7,761.6 899.3,761.6 900.2,762.1 900.2,766.7 895.6,766.7 894.7,766.2"/><polygon points="895.6,762.1 900.2,762.1 900.3,762.1 900.3,766.8 895.7,766.8 895.6,766.7"/>
<polygon points="902.6,765.9 907.2,765.9 907.5,766.0 907.5,770.6 902.9,770.6 902.6,770.5"/><polygon points="902.9,766.0 907.5,766.0 908.4,766.5 908.4,771.1 903.8,771.1 902.9,770.6"/><polygon points="903.8,766.5 908.4,766.5 909.3,766.9 909.3,771.5 904.7,771.5 903.8,771.1"/><polygon points="904.7,766.9 909.3,766.9 909.5,767.0 909.5,771.6 904.9,771.6 904.7,771.5"/>
<polygon points="911.7,770.0 916.3,770.0 916.6,770.1 916.6,774.7 912.0,774.7 911.7,774.6"/><polygon points="912.0,770.1 916.6,770.1 917.5,770.5 917.5,775.1 912.9,775.1 912.0,774.7"/><polygon points="912.9,770.5 917.5,770.5 918.4,771.0 918.4,775.6 913.8,775.6 912.9,775.1"/><polygon points="913.8,771.0 918.4,771.0 918.6,771.1 918.6,775.7 914.0,775.7 913.8,775.6"/>
<polygon points="920.8,774.1 925.4,774.1 925.8,774.3 925.8,778.9 921.2,778.9 920.8,778.7"/><polygon points="921.2,774.3 925.8,774.3 926.7,774.7 926.7,779.3 922.1,779.3 921.2,778.9"/><polygon points="922.1,774.7 926.7,774.7 927.6,775.1 927.6,779.7 923.0,779.7 922.1,779.3"/><polygon points="923.0,775.1 927.6,775.1 927.7,775.2 927.7,779.8 923.1,779.8 923.0,779.7"/>
<polygon points="930.0,778.5 934.6,778.5 934.8,778.6 934.8,783.2 930.2,783.2 930.0,783.1"/><polygon points="930.2,778.6 934.8,778.6 935.8,779.1 935.8,783.7 931.1,783.7 930.2,783.2"/><polygon points="931.1,779.1 935.8,779.1 936.7,779.5 936.7,784.1 932.1,784.1 931.1,783.7"/><polygon points="932.1,779.5 936.7,779.5 936.8,779.5 936.8,784.1 932.2,784.1 932.1,784.1"/>
<polygon points="939.1,782.5 943.7,782.5 944.0,782.6 944.0,787.2 939.4,787.2 939.1,787.1"/><polygon points="939.4,782.6 944.0,782.6 944.9,783.0 944.9,787.6 940.3,787.6 939.4,787.2"/><polygon points="940.3,783.0 944.9,783.0 945.8,783.4 945.8,788.0 941.2,788.0 940.3,787.6"/><polygon points="941.2,783.4 945.8,783.4 946.0,783.4 946.0,788.0 941.4,788.0 941.2,788.0"/>
<polygon points="948.2,785.9 952.8,785.9 953.2,786.1 953.2,790.7 948.6,790.7 948.2,790.5"/><polygon points="948.6,786.1 953.2,786.1 954.1,786.4 954.1,791.0 949.5,791.0 948.6,790.7"/><polygon points="949.5,786.4 954.1,786.4 955.0,786.8 955.0,791.4 950.4,791.4 949.5,791.0"/><polygon points="950.4,786.8 955.1,786.8 955.1,791.4 950.4,791.4"/>
<polygon points="957.3,789.2 961.9,789.2 962.4,789.4 962.4,794.0 957.8,794.0 957.3,793.8"/><polygon points="957.8,789.4 962.4,789.4 963.3,789.7 963.3,794.3 958.7,794.3 957.8,794.0"/><polygon points="958.7,789.7 963.3,789.7 964.2,790.0 964.2,794.6 959.6,794.6 958.7,794.3"/>
<polygon points="966.4,792.3 971.0,792.3 971.5,792.4 971.5,797.0 966.9,797.0 966.4,796.9"/><polygon points="966.9,792.4 971.5,792.4 972.4,792.7 972.4,797.3 967.8,797.3 966.9,797.0"/><polygon points="967.8,792.7 972.4,792.7 973.3,793.0 973.3,797.6 968.7,797.6 967.8,797.3"/>
<polygon points="975.5,794.9 980.1,794.9 980.5,795.1 980.5,799.7 976.0,799.7 975.5,799.5"/><polygon points="976.0,795.1 980.5,795.1 981.5,795.3 981.5,799.9 976.9,799.9 976.0,799.7"/><polygon points="976.9,795.3 981.5,795.3 982.4,795.6 982.4,800.2 977.8,800.2 976.9,799.9"/><polygon points="977.8,795.6 982.4,795.6 982.4,795.6 982.4,800.2 977.8,800.2 977.8,800.2"/>
<polygon points="984.6,797.4 989.2,797.4 989.6,797.5 989.6,802.1 985.0,802.1 984.6,802.0"/><polygon points="985.0,797.5 989.6,797.5 990.5,797.8 990.5,802.4 985.9,802.4 985.0,802.1"/><polygon points="985.9,797.8 990.5,797.8 991.4,798.0 991.4,802.6 986.8,802.6 985.9,802.4"/><polygon points="986.8,798.0 991.4,798.0 991.5,798.0 991.5,802.6 986.9,802.6 986.8,802.6"/>
<polygon points="993.8,799.7 998.4,799.7 998.6,799.8 998.6,804.4 994.0,804.4 993.8,804.3"/><polygon points="994.0,799.8 998.6,799.8 999.5,800.0 999.5,804.6 994.9,804.6 994.0,804.4"/><polygon points="994.9,800.0 999.5,800.0 1000.6,800.3 1000.6,804.9 996.0,804.9 994.9,804.6"/>
<rect x="979" y="832" width="26.7" height="6"/>
</g>
<path fill="#000" fill-rule="evenodd" d="M218.8,15.1H1044.2V840.9H218.8Z M224.1,20.1H1039.9V836.1H224.1Z"/>
<g stroke="#000" fill="none">
<line x1="195" x2="219.5" y1="838.7" y2="838.7" stroke-width="2.5"/>
<line x1="195" x2="219.5" y1="604.0" y2="604.0" stroke-width="2.5"/>
<line x1="195" x2="219.5" y1="369.0" y2="369.0" stroke-width="2.5"/>
<line x1="195" x2="219.5" y1="134.2" y2="134.2" stroke-width="2.5"/>
<line x1="221.6" x2="221.6" y1="840" y2="861.2" stroke-width="2.4"/>
<line x1="417.3" x2="417.3" y1="840" y2="861.2" stroke-width="2.4"/>
<line x1="611.6" x2="611.6" y1="840" y2="861.2" stroke-width="2.4"/>
<line x1="807.3" x2="807.3" y1="840" y2="861.2" stroke-width="2.4"/>
<line x1="1003.5" x2="1003.5" y1="840" y2="861.2" stroke-width="2.4"/>
</g>
<g font-family="'Liberation Sans', sans-serif" fill="#000">
<text transform="translate(187.3,848.2) scale(0.93,1)" font-size="58" text-anchor="end">0</text>
<text transform="translate(187.3,615.6) scale(0.93,1)" font-size="58" text-anchor="end">1</text>
<text transform="translate(187.3,380.8) scale(0.93,1)" font-size="58" text-anchor="end">2</text>
<text transform="translate(187.3,146.2) scale(0.93,1)" font-size="58" text-anchor="end">3</text>
<text transform="translate(222.9,900.4) scale(0.982,1)" font-size="56.5" text-anchor="middle">400</text>
<text transform="translate(419.5,900.4) scale(0.982,1)" font-size="56.5" text-anchor="middle">450</text>
<text transform="translate(613.8,900.4) scale(0.982,1)" font-size="56.5" text-anchor="middle">500</text>
<text transform="translate(809.7,900.4) scale(0.982,1)" font-size="56.5" text-anchor="middle">550</text>
<text transform="translate(1005.4,900.4) scale(0.982,1)" font-size="56.5" text-anchor="middle">600</text>
<text x="631.2" y="973" font-size="54.8" font-weight="bold" text-anchor="middle">Wavelength (nm)</text>
<text transform="translate(57,902.5) rotate(-90) scale(0.9,1)" letter-spacing="3.2" font-size="54.4" font-weight="bold" style="white-space:pre">Fluorescence</text>
<text transform="translate(57,536.5) rotate(-90) scale(0.9,1)" letter-spacing="3.3" font-size="54.4" font-weight="bold" style="white-space:pre">Intensity</text>
<text transform="translate(57,295.5) rotate(-90) scale(0.9,1)" letter-spacing="3" font-size="54.4" font-weight="bold" style="white-space:pre">x</text>
<text transform="translate(57,249.5) rotate(-90) scale(0.9,1)" letter-spacing="3" font-size="54.4" font-weight="bold" style="white-space:pre">10</text>
<text transform="translate(27.4,190.5) rotate(-90) scale(0.9,1)" letter-spacing="0.6" font-size="39" style="white-space:pre">-5</text>
<text transform="translate(57,144.8) rotate(-90)" letter-spacing="0.4" stroke="#fff" stroke-width="0.7" font-size="54.4" font-weight="bold" style="white-space:pre">(A.U.)</text>
</g>
</svg>
</body></html>
